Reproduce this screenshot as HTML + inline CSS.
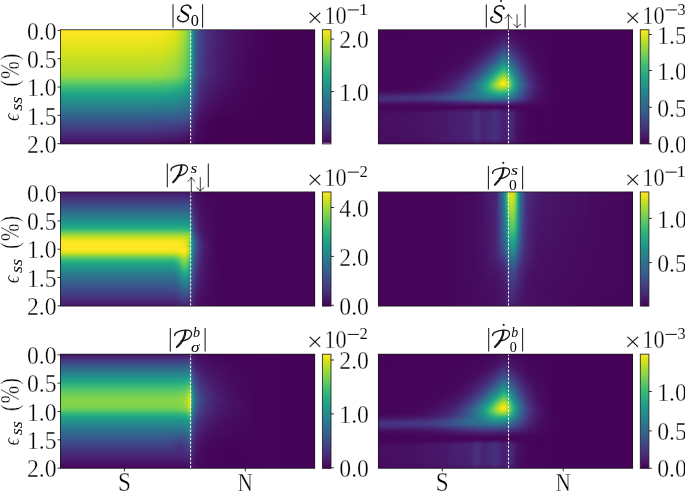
<!DOCTYPE html>
<html><head><meta charset="utf-8"><style>
html,body{margin:0;padding:0;background:#fff;}
#fig{position:relative;width:685px;height:491px;overflow:hidden;background:#fff;font-family:"Liberation Serif",serif;}
#fig div{position:absolute;}
</style></head><body><div id="fig">
<div style="left:60px;top:30px;width:255px;height:114px"><div style="left:0px;top:0;width:91px;height:114px;background:linear-gradient(#fde725,#f3e61e 8.5px,#dae319 20.5px,#acdc31 41.5px,#9eda3a 45.5px,#6cce5a 51.5px,#42be71 56.5px,#25ab82 62.5px,#1e9b8a 67.5px,#31688e 84.5px,#443c84 98.5px,#48196b 110.5px,#470e61)"></div><div style="left:91px;top:0;width:6px;height:114px;background:linear-gradient(#fbe723,#f2e61d 7.5px,#dae319 19.5px,#a9dc33 41.5px,#9cd93c 45.5px,#6acd5b 51.5px,#41be72 56.5px,#25ab82 62.5px,#1e9b8a 67.5px,#31678e 84.5px,#433d85 97.5px,#48176a 110.5px,#470d60)"></div><div style="left:97px;top:0;width:4px;height:114px;background:linear-gradient(#f8e621,#f0e51c 7.5px,#d8e219 19.5px,#a2da38 43.5px,#94d841 46.5px,#47c06f 55.5px,#28ae80 61.5px,#1f9d89 66.5px,#2e6d8e 82.5px,#424086 96.5px,#481a6c 109.5px,#470c5f)"></div><div style="left:101px;top:0;width:3px;height:114px;background:linear-gradient(#f6e620,#eee51b 7.5px,#d5e21a 19.5px,#9cd93b 44.5px,#8ad547 47.5px,#45c070 55.5px,#27ad81 61.5px,#1e9d89 66.5px,#2e6d8e 82.5px,#423f85 96.5px,#481668 110.5px,#460c5f)"></div><div style="left:104px;top:0;width:2px;height:114px;background:linear-gradient(#f4e61e,#ece51a 7.5px,#d3e21b 19.5px,#9ad93d 44.5px,#88d548 47.5px,#44bf70 55.5px,#26ad81 61.5px,#1e9d89 66.5px,#2e6d8e 82.5px,#433f85 96.5px,#481568 110.5px,#460b5e)"></div><div style="left:106px;top:0;width:2px;height:114px;background:linear-gradient(#f2e61d,#e9e41a 7.5px,#d0e11c 19.5px,#98d83e 44.5px,#86d549 47.5px,#43bf71 55.5px,#26ac81 61.5px,#1e9c89 66.5px,#30698e 83.5px,#433e85 96.5px,#481567 110.5px,#460b5e)"></div><div style="left:108px;top:0;width:2px;height:114px;background:linear-gradient(#efe51c,#e6e419 7.5px,#cbe11e 20.5px,#96d83f 44.5px,#84d44b 47.5px,#42be72 55.5px,#25ac82 61.5px,#1e9c8a 66.5px,#30698e 83.5px,#433e85 96.5px,#481467 110.5px,#460b5e)"></div><div style="left:110px;top:0;width:1px;height:114px;background:linear-gradient(#ece51a,#e4e418 7.5px,#c8e020 20.5px,#94d841 44.5px,#82d44c 47.5px,#40bd72 55.5px,#25ab82 61.5px,#1e9b8a 66.5px,#30698e 83.5px,#433d85 96.5px,#481466 110.5px,#460a5d)"></div><div style="left:111px;top:0;width:1px;height:114px;background:linear-gradient(#eae51a,#e1e318 7.5px,#c4e022 21.5px,#92d742 44.5px,#80d34d 47.5px,#3fbd73 55.5px,#24ab82 61.5px,#1e9b8a 66.5px,#32668e 84.5px,#433d84 96.5px,#481366 110.5px,#460a5d)"></div><div style="left:112px;top:0;width:1px;height:114px;background:linear-gradient(#e7e419,#dfe318 7.5px,#bfdf25 22.5px,#90d743 44.5px,#7fd34e 47.5px,#3ebc73 55.5px,#24aa83 61.5px,#1f978b 67.5px,#355f8d 86.5px,#453681 98.5px,#470d60 112.5px,#460a5d)"></div><div style="left:113px;top:0;width:1px;height:114px;background:linear-gradient(#e5e419,#dce319 7.5px,#b9de29 24.5px,#8ed645 44.5px,#7dd24f 47.5px,#3dbc74 55.5px,#26ad81 60.5px,#1e9d89 65.5px,#2e6f8e 81.5px,#423f86 95.5px,#48196b 108.5px,#46095d)"></div><div style="left:114px;top:0;width:1px;height:114px;background:linear-gradient(#e2e418,#d9e219 7.5px,#afdd2f 27.5px,#8bd646 44.5px,#7ad251 47.5px,#3cbb75 55.5px,#26ac82 60.5px,#1e9c89 65.5px,#2f6b8e 82.5px,#423f85 95.5px,#48186a 108.5px,#46095c)"></div><div style="left:115px;top:0;width:1px;height:114px;background:linear-gradient(#dee318,#d6e21a 7.5px,#a0da39 33.5px,#89d548 44.5px,#78d152 47.5px,#3aba76 55.5px,#25ab82 60.5px,#1e9c89 65.5px,#2f6b8e 82.5px,#433f85 95.5px,#48186a 108.5px,#46095c)"></div><div style="left:116px;top:0;width:1px;height:114px;background:linear-gradient(#dbe319,#d2e21b 7.5px,#86d44a 44.5px,#75d054 47.5px,#39b976 55.5px,#24aa83 60.5px,#1f988b 66.5px,#355e8d 86.5px,#453782 97.5px,#470e61 111.5px,#46085c)"></div><div style="left:117px;top:0;width:1px;height:114px;background:linear-gradient(#d6e21a,#cee11d 7.5px,#83d44c 44.5px,#72cf56 47.5px,#37b877 55.5px,#24aa83 60.5px,#1f978b 66.5px,#355e8d 86.5px,#453781 97.5px,#470e61 111.5px,#46085c)"></div><div style="left:118px;top:0;width:1px;height:114px;background:linear-gradient(#d2e21b,#c9e01f 7.5px,#7fd34e 44.5px,#6fcf58 47.5px,#35b778 55.5px,#23a984 60.5px,#1f968b 66.5px,#355d8d 86.5px,#453681 97.5px,#470d60 111.5px,#46085b)"></div><div style="left:119px;top:0;width:1px;height:114px;background:linear-gradient(#cce11e,#c4e022 7.5px,#7bd250 44.5px,#6ccd5a 47.5px,#33b67a 55.5px,#22a784 60.5px,#1f958b 66.5px,#375a8c 87.5px,#46327f 98.5px,#46075b)"></div><div style="left:120px;top:0;width:1px;height:114px;background:linear-gradient(#c6e021,#bedf26 7.5px,#77d153 44.5px,#68cc5c 47.5px,#31b57b 55.5px,#21a685 60.5px,#20918c 67.5px,#365c8d 86.5px,#453580 97.5px,#460a5d 112.5px,#46075a)"></div><div style="left:121px;top:0;width:1px;height:114px;background:linear-gradient(#bfdf25,#b7de2a 7.5px,#6fce58 45.5px,#34b679 54.5px,#22a884 59.5px,#1f968b 65.5px,#365c8d 86.5px,#463480 97.5px,#46095c 112.5px,#46075a)"></div><div style="left:122px;top:0;width:1px;height:114px;background:linear-gradient(#b8de29,#afdd2f 7.5px,#75d054 40.5px,#69cd5b 45.5px,#2cb27d 55.5px,#20a387 60.5px,#23898d 69.5px,#355e8d 85.5px,#453781 96.5px,#470d60 110.5px,#45065a)"></div><div style="left:123px;top:0;width:1px;height:114px;background:linear-gradient(#afdd2f,#a7db34 7.5px,#70cf57 39.5px,#64cb5e 45.5px,#2ab07f 55.5px,#1fa187 60.5px,#277e8e 73.5px,#3a548b 88.5px,#472c7b 99.5px,#450659)"></div><div style="left:124px;top:0;width:1px;height:114px;background:linear-gradient(#a6db35,#9eda3a 7.5px,#6acd5b 38.5px,#5ec962 45.5px,#27ae80 55.5px,#1e9c89 61.5px,#2d6f8e 79.5px,#414487 92.5px,#481d6e 104.5px,#450559)"></div><div style="left:125px;top:0;width:1px;height:114px;background:linear-gradient(#9cd93c,#92d742 8.5px,#62cb5f 38.5px,#57c766 45.5px,#28ae80 54.5px,#1fa088 59.5px,#2a788e 75.5px,#3e4b89 90.5px,#482475 101.5px,#450558)"></div><div style="left:126px;top:0;width:1px;height:114px;background:linear-gradient(#90d743,#86d549 8.5px,#5ac864 38.5px,#50c46a 45.5px,#25ac82 54.5px,#1e9b8a 60.5px,#306a8e 80.5px,#414287 92.5px,#481a6c 104.5px,#450457)"></div><div style="left:127px;top:0;width:1px;height:114px;background:linear-gradient(#84d44b,#7ad251 8.5px,#51c469 38.5px,#48c16e 45.5px,#23a884 54.5px,#1f958b 61.5px,#355d8d 84.5px,#443983 94.5px,#471164 107.5px,#450457)"></div><div style="left:128px;top:0;width:1px;height:114px;background:linear-gradient(#76d053,#6cce5a 9.5px,#48c16e 38.5px,#40bd72 45.5px,#21a586 54.5px,#218f8d 62.5px,#355f8d 83.5px,#433c84 93.5px,#481568 105.5px,#450458 112.5px,#450356)"></div><div style="left:129px;top:0;width:1px;height:114px;background:linear-gradient(#68cc5c,#59c765 13.5px,#3ebc74 39.5px,#36b878 46.5px,#20a486 53.5px,#228c8d 62.5px,#355e8d 83.5px,#443b83 93.5px,#481466 105.5px,#450357 112.5px,#440255)"></div><div style="left:130px;top:0;width:1px;height:114px;background:linear-gradient(#59c765,#35b778 37.5px,#2eb37d 46.5px,#1fa088 53.5px,#2a778e 70.5px,#355f8d 82.5px,#433d85 92.5px,#481568 104.5px,#450457 111.5px,#440255)"></div><div style="left:131px;top:0;width:1px;height:114px;background:linear-gradient(#2cb17e,#20a586 32.5px,#21908d 50.5px,#2e6e8e 68.5px,#433e85 87.5px,#482273 104.5px,#48196b)"></div><div style="left:132px;top:0;width:1px;height:114px;background:linear-gradient(#1f978b,#238b8d 36.5px,#306a8e 62.5px,#433e85 82.5px,#482374 97.5px,#481466)"></div><div style="left:133px;top:0;width:1px;height:114px;background:linear-gradient(#26838e,#2a788e 38.5px,#38598c 64.5px,#463480 82.5px,#481c6e 98.5px,#471062)"></div><div style="left:134px;top:0;width:1px;height:114px;background:linear-gradient(#2c748e,#30698e 39.5px,#3d4e8a 64.5px,#482a79 83.5px,#481567 100.5px,#470c5f)"></div><div style="left:135px;top:0;width:1px;height:114px;background:linear-gradient(#31678e,#355e8d 40.5px,#414387 65.5px,#481b6d 89.5px,#460a5d)"></div><div style="left:136px;top:0;width:1px;height:114px;background:linear-gradient(#355e8d,#39558c 40.5px,#433c84 65.5px,#481467 92.5px,#46085b)"></div><div style="left:137px;top:0;width:1px;height:114px;background:linear-gradient(#39568c,#3d4d8a 41.5px,#463580 66.5px,#471164 92.5px,#46065a)"></div><div style="left:138px;top:0;width:1px;height:114px;background:linear-gradient(#3c4f8a,#3f4788 41.5px,#472e7c 67.5px,#470f62 92.5px,#450559)"></div><div style="left:139px;top:0;width:1px;height:114px;background:linear-gradient(#3e4a89,#414287 41.5px,#472b7a 67.5px,#470d60 92.5px,#450558)"></div><div style="left:140px;top:0;width:1px;height:114px;background:linear-gradient(#404588,#433e85 41.5px,#482777 67.5px,#460a5e 93.5px,#450457)"></div><div style="left:141px;top:0;width:1px;height:114px;background:linear-gradient(#424186,#443a83 42.5px,#482374 68.5px,#46095c 93.5px,#450457)"></div><div style="left:142px;top:0;width:1px;height:114px;background:linear-gradient(#433d85,#453781 42.5px,#482172 68.5px,#46085b 93.5px,#450356)"></div><div style="left:143px;top:0;width:1px;height:114px;background:linear-gradient(#443a83,#463480 42.5px,#481e6f 69.5px,#46075a 93.5px,#450356)"></div><div style="left:144px;top:0;width:1px;height:114px;background:linear-gradient(#453782,#46327e 42.5px,#481c6e 69.5px,#45065a 93.5px,#450356)"></div><div style="left:145px;top:0;width:1px;height:114px;background:linear-gradient(#453580,#472f7d 42.5px,#481a6c 69.5px,#450659 93.5px,#440255)"></div><div style="left:146px;top:0;width:1px;height:114px;background:linear-gradient(#46327f,#472d7c 42.5px,#48186a 70.5px,#450559 93.5px,#440255)"></div><div style="left:147px;top:0;width:1px;height:114px;background:linear-gradient(#46307e,#472b7a 42.5px,#481568 71.5px,#450558 93.5px,#440255)"></div><div style="left:148px;top:0;width:2px;height:114px;background:linear-gradient(#472d7c,#482878 43.5px,#471164 73.5px,#450457 94.5px,#440255)"></div><div style="left:150px;top:0;width:2px;height:114px;background:linear-gradient(#482a79,#482576 43.5px,#470d60 76.5px,#450356 98.5px,#440255)"></div><div style="left:152px;top:0;width:2px;height:114px;background:linear-gradient(#482677,#482273 43.5px,#450457 90.5px,#440255)"></div><div style="left:154px;top:0;width:2px;height:114px;background:linear-gradient(#482374,#482071 43.5px,#450356 90.5px,#440254)"></div><div style="left:156px;top:0;width:2px;height:114px;background:linear-gradient(#482172,#481d6f 44.5px,#450356 89.5px,#440154)"></div><div style="left:158px;top:0;width:2px;height:114px;background:linear-gradient(#481e70,#481b6d 44.5px,#450356 89.5px,#440154)"></div><div style="left:160px;top:0;width:2px;height:114px;background:linear-gradient(#481c6e,#48196b 44.5px,#440256 89.5px,#440154)"></div><div style="left:162px;top:0;width:3px;height:114px;background:linear-gradient(#48196c,#481668 45.5px,#440255 88.5px,#440154)"></div><div style="left:165px;top:0;width:3px;height:114px;background:linear-gradient(#481769,#481466 45.5px,#440255 88.5px,#440154)"></div><div style="left:168px;top:0;width:3px;height:114px;background:linear-gradient(#481467,#471164 46.5px,#440255 89.5px,#440154)"></div><div style="left:171px;top:0;width:3px;height:114px;background:linear-gradient(#471265,#470f62 46.5px,#440254 90.5px,#440154)"></div><div style="left:174px;top:0;width:4px;height:114px;background:linear-gradient(#471062,#470d60 47.5px,#440154 91.5px,#440154)"></div><div style="left:178px;top:0;width:4px;height:114px;background:linear-gradient(#470d60,#460a5e 48.5px,#440154 95.5px,#440154)"></div><div style="left:182px;top:0;width:5px;height:114px;background:linear-gradient(#460b5e,#46085b 50.5px,#440154 102.5px,#440154)"></div><div style="left:187px;top:0;width:6px;height:114px;background:linear-gradient(#46095c,#450559 55.5px,#440154)"></div><div style="left:193px;top:0;width:8px;height:114px;background:linear-gradient(#45065a,#450356 64.5px,#440154)"></div><div style="left:201px;top:0;width:12px;height:114px;background:linear-gradient(#450458,#440154)"></div><div style="left:213px;top:0;width:23px;height:114px;background:#440255"></div><div style="left:236px;top:0;width:19px;height:114px;background:#440254"></div></div>
<div style="left:378px;top:30px;width:255px;height:114px"><div style="left:0px;top:0;width:12px;height:114px;background:linear-gradient(#450457,#450659 59.5px,#471063 62.5px,#46307e 67.5px,#46327e 69.5px,#482474 71.5px,#460b5e 74.5px,#450458 77.5px,#46095c 81.5px,#471063 85.5px,#470d60 110.5px,#46095c)"></div><div style="left:12px;top:0;width:10px;height:114px;background:linear-gradient(#450457,#45065a 59.5px,#471164 62.5px,#472d7b 66.5px,#46337f 68.5px,#472b7a 70.5px,#460a5e 74.5px,#450457 78.5px,#471063 84.5px,#470e60 110.5px,#46095c)"></div><div style="left:22px;top:0;width:8px;height:114px;background:linear-gradient(#450457,#450659 58.5px,#470e61 61.5px,#472f7d 66.5px,#463480 68.5px,#472a7a 70.5px,#460a5d 74.5px,#450457 78.5px,#471164 84.5px,#471062 109.5px,#46095c)"></div><div style="left:30px;top:0;width:6px;height:114px;background:linear-gradient(#450457,#46075a 58.5px,#471062 61.5px,#46307e 66.5px,#453580 68.5px,#472a7a 70.5px,#471063 73.5px,#450558 76.5px,#450559 79.5px,#471264 84.5px,#471063 109.5px,#46095d)"></div><div style="left:36px;top:0;width:5px;height:114px;background:linear-gradient(#450457,#46075b 57.5px,#471164 61.5px,#46327f 66.5px,#453681 68.5px,#472b7a 70.5px,#471063 73.5px,#450559 76.5px,#450659 79.5px,#471265 83.5px,#471164 109.5px,#460a5d)"></div><div style="left:41px;top:0;width:4px;height:114px;background:linear-gradient(#450457,#46075b 55.5px,#470f62 60.5px,#482777 64.5px,#453782 67.5px,#46337f 69.5px,#471063 73.5px,#450559 76.5px,#45065a 79.5px,#471366 83.5px,#471264 109.5px,#460a5d)"></div><div style="left:45px;top:0;width:4px;height:114px;background:linear-gradient(#450457,#46075b 52.5px,#470e60 59.5px,#481b6d 62.5px,#453681 66.5px,#443982 68.5px,#472c7b 70.5px,#471164 73.5px,#450559 76.5px,#46065a 79.5px,#481466 83.5px,#471365 109.5px,#460b5e)"></div><div style="left:49px;top:0;width:3px;height:114px;background:linear-gradient(#450457,#46075b 50.5px,#471062 59.5px,#481d6f 62.5px,#453882 66.5px,#443a83 68.5px,#472d7b 70.5px,#471164 73.5px,#450559 76.5px,#46075a 79.5px,#481567 83.5px,#481466 109.5px,#460b5e)"></div><div style="left:52px;top:0;width:3px;height:114px;background:linear-gradient(#450457,#46075b 49.5px,#471264 59.5px,#481f71 62.5px,#443a83 66.5px,#433c84 68.5px,#472e7c 70.5px,#471265 73.5px,#450659 76.5px,#46075b 79.5px,#481668 83.5px,#481467 109.5px,#460b5f)"></div><div style="left:55px;top:0;width:3px;height:114px;background:linear-gradient(#450457,#46075b 47.5px,#481466 59.5px,#482273 62.5px,#433c84 66.5px,#433e85 68.5px,#472f7d 70.5px,#471365 73.5px,#450659 76.5px,#450558 78.5px,#481769 83.5px,#481568 109.5px,#460c5f)"></div><div style="left:58px;top:0;width:2px;height:114px;background:linear-gradient(#450457,#46085b 46.5px,#481669 59.5px,#482475 62.5px,#433f85 66.5px,#424086 68.5px,#46307e 70.5px,#481466 73.5px,#450659 76.5px,#450558 78.5px,#48186a 83.5px,#481668 109.5px,#470c5f)"></div><div style="left:60px;top:0;width:2px;height:114px;background:linear-gradient(#450457,#46085b 45.5px,#48186b 59.5px,#482777 62.5px,#424186 66.5px,#424286 68.5px,#46327e 70.5px,#481467 73.5px,#450659 76.5px,#450558 78.5px,#48186b 83.5px,#481769 109.5px,#470d60)"></div><div style="left:62px;top:0;width:2px;height:114px;background:linear-gradient(#450457,#46085b 44.5px,#481b6d 59.5px,#482979 62.5px,#414387 66.5px,#414387 68.5px,#46337f 70.5px,#481567 73.5px,#45065a 76.5px,#450559 78.5px,#48186a 82.5px,#48176a 109.5px,#470d60)"></div><div style="left:64px;top:0;width:2px;height:114px;background:linear-gradient(#450457,#46085c 43.5px,#481d6f 59.5px,#46337f 63.5px,#404588 66.5px,#404588 68.5px,#463480 70.5px,#481668 73.5px,#45065a 76.5px,#450559 78.5px,#48186b 82.5px,#48186a 109.5px,#470d60)"></div><div style="left:66px;top:0;width:2px;height:114px;background:linear-gradient(#450457,#46085c 42.5px,#482071 59.5px,#453681 63.5px,#3f4888 66.5px,#3f4788 68.5px,#453681 70.5px,#481769 73.5px,#45065a 76.5px,#450559 78.5px,#48196b 82.5px,#48196b 109.5px,#470e61)"></div><div style="left:68px;top:0;width:2px;height:114px;background:linear-gradient(#450457,#46085b 40.5px,#48176a 52.5px,#482777 60.5px,#404688 65.5px,#3d4c8a 67.5px,#3e4a89 68.5px,#453882 70.5px,#48176a 73.5px,#45065a 76.5px,#450659 78.5px,#481a6c 82.5px,#481a6c 109.5px,#470e61)"></div><div style="left:70px;top:0;width:2px;height:114px;background:linear-gradient(#450457,#46085c 39.5px,#48186a 51.5px,#472a7a 60.5px,#3e4989 65.5px,#3c4f8a 67.5px,#3d4c8a 68.5px,#443a83 70.5px,#48186a 73.5px,#46075a 76.5px,#450659 78.5px,#481b6d 82.5px,#481a6c 109.5px,#470e61)"></div><div style="left:72px;top:0;width:1px;height:114px;background:linear-gradient(#450457,#46085c 38.5px,#48186a 50.5px,#472d7b 60.5px,#3c508b 66.5px,#3c4e8a 68.5px,#443b84 70.5px,#48196b 73.5px,#46075a 76.5px,#450659 78.5px,#481c6d 82.5px,#481b6d 109.5px,#470f62)"></div><div style="left:73px;top:0;width:1px;height:114px;background:linear-gradient(#450457,#46085c 37.5px,#48196b 50.5px,#472f7d 60.5px,#3b518b 66.5px,#3c508b 68.5px,#433c84 70.5px,#48196c 73.5px,#46075a 76.5px,#45065a 78.5px,#481c6e 82.5px,#481b6d 109.5px,#470f62)"></div><div style="left:74px;top:0;width:1px;height:114px;background:linear-gradient(#450457,#46095c 37.5px,#48186b 49.5px,#46317e 60.5px,#3a538b 66.5px,#3b518b 68.5px,#433d85 70.5px,#481a6c 73.5px,#46075a 76.5px,#45065a 78.5px,#481c6e 82.5px,#481b6d 109.5px,#470f62)"></div><div style="left:75px;top:0;width:1px;height:114px;background:linear-gradient(#450457,#46095c 36.5px,#481a6c 49.5px,#46337f 60.5px,#39558c 66.5px,#3a538b 68.5px,#433e85 70.5px,#481a6c 73.5px,#46075a 76.5px,#45065a 78.5px,#481d6f 82.5px,#481c6e 109.5px,#470f62)"></div><div style="left:76px;top:0;width:1px;height:114px;background:linear-gradient(#450457,#46085c 35.5px,#48196b 48.5px,#472d7c 57.5px,#443b83 61.5px,#39578c 66.5px,#3a548c 68.5px,#423f86 70.5px,#481b6d 73.5px,#46075a 76.5px,#45065a 78.5px,#481d6f 82.5px,#481c6e 109.5px,#470f62)"></div><div style="left:77px;top:0;width:1px;height:114px;background:linear-gradient(#450457,#46095c 35.5px,#481b6d 48.5px,#472e7c 56.5px,#453882 60.5px,#38588c 66.5px,#39568c 68.5px,#424186 70.5px,#481b6d 73.5px,#46075a 76.5px,#46075a 78.5px,#481e6f 82.5px,#481d6e 109.5px,#471062)"></div><div style="left:78px;top:0;width:1px;height:114px;background:linear-gradient(#450457,#46095c 34.5px,#481a6c 47.5px,#46307e 56.5px,#443b83 60.5px,#375a8c 66.5px,#38578c 68.5px,#414286 70.5px,#481c6e 73.5px,#46075a 76.5px,#46075a 78.5px,#481e70 82.5px,#481d6f 109.5px,#471063)"></div><div style="left:79px;top:0;width:1px;height:114px;background:linear-gradient(#450457,#46095c 33.5px,#481a6c 46.5px,#46337f 56.5px,#414286 61.5px,#37598c 65.5px,#365c8d 67.5px,#38588c 68.5px,#414387 70.5px,#481c6e 73.5px,#46075a 76.5px,#450458 77.5px,#470d60 79.5px,#481e70 82.5px,#481d6f 109.5px,#471063)"></div><div style="left:80px;top:0;width:1px;height:114px;background:linear-gradient(#450457,#46095d 33.5px,#481b6d 46.5px,#463480 55.5px,#424086 60.5px,#375b8d 65.5px,#355e8d 67.5px,#375a8c 68.5px,#414487 70.5px,#481d6f 73.5px,#46075a 76.5px,#450458 77.5px,#470d60 79.5px,#481f70 82.5px,#481e6f 109.5px,#471063)"></div><div style="left:81px;top:0;width:1px;height:114px;background:linear-gradient(#450457,#46095c 32.5px,#481b6d 45.5px,#453781 55.5px,#414287 60.5px,#365c8d 65.5px,#355f8d 67.5px,#375b8d 68.5px,#404587 70.5px,#481d6f 73.5px,#46075b 76.5px,#450558 77.5px,#470e61 79.5px,#481f71 82.5px,#481e70 109.5px,#471063)"></div><div style="left:82px;top:0;width:1px;height:114px;background:linear-gradient(#450457,#46095c 31.5px,#481a6c 44.5px,#443983 55.5px,#404588 60.5px,#355e8d 65.5px,#34608d 67.5px,#365c8d 68.5px,#404688 70.5px,#481e70 73.5px,#46075b 76.5px,#450558 77.5px,#470e61 79.5px,#482071 82.5px,#481e70 109.5px,#471063)"></div><div style="left:83px;top:0;width:1px;height:114px;background:linear-gradient(#450457,#46095c 30.5px,#481a6c 43.5px,#463480 52.5px,#3d4c8a 61.5px,#34608d 65.5px,#33618d 67.5px,#355d8d 68.5px,#404688 70.5px,#481e70 73.5px,#46075b 76.5px,#450558 77.5px,#470e61 79.5px,#482071 82.5px,#481e70 109.5px,#471163)"></div><div style="left:84px;top:0;width:1px;height:114px;background:linear-gradient(#450457,#46095d 30.5px,#481b6d 43.5px,#453781 52.5px,#3c4f8a 61.5px,#34618d 65.5px,#33638d 67.5px,#355e8d 68.5px,#3f4788 70.5px,#481f70 73.5px,#46075b 76.5px,#450558 77.5px,#470f61 79.5px,#482072 82.5px,#481f70 109.5px,#471163)"></div><div style="left:85px;top:0;width:1px;height:114px;background:linear-gradient(#450457,#46095d 29.5px,#481b6d 42.5px,#453681 51.5px,#414387 55.5px,#3b518b 61.5px,#33638d 65.5px,#32648e 67.5px,#355f8d 68.5px,#3f4889 70.5px,#481f71 73.5px,#46075b 76.5px,#450558 77.5px,#470f62 79.5px,#482172 82.5px,#481f71 109.5px,#471164)"></div><div style="left:86px;top:0;width:1px;height:114px;background:linear-gradient(#450457,#46095d 28.5px,#481b6d 41.5px,#453580 50.5px,#404688 55.5px,#3a548c 61.5px,#32648e 65.5px,#32658e 67.5px,#34608d 68.5px,#3f4989 70.5px,#482071 73.5px,#46075b 76.5px,#450558 77.5px,#470f62 79.5px,#482172 82.5px,#481f71 109.5px,#471164)"></div><div style="left:87px;top:0;width:1px;height:114px;background:linear-gradient(#450457,#46095d 27.5px,#481a6c 40.5px,#453882 50.5px,#3e4a89 55.5px,#38578c 61.5px,#31678e 66.5px,#34618d 68.5px,#3e4a89 70.5px,#482071 73.5px,#46075b 76.5px,#450558 77.5px,#470f62 79.5px,#482173 82.5px,#481f71 109.5px,#471164)"></div><div style="left:88px;top:0;width:1px;height:114px;background:linear-gradient(#450457,#460a5d 27.5px,#481c6e 40.5px,#443b84 50.5px,#3d4d8a 55.5px,#355e8d 62.5px,#30688e 66.5px,#33628d 68.5px,#3e4a89 70.5px,#482072 73.5px,#46075b 76.5px,#450558 77.5px,#471062 79.5px,#482273 82.5px,#482071 109.5px,#471164)"></div><div style="left:89px;top:0;width:1px;height:114px;background:linear-gradient(#450457,#460a5d 26.5px,#481c6e 39.5px,#443a83 49.5px,#3c4f8a 54.5px,#34608d 62.5px,#306a8e 66.5px,#33638d 68.5px,#3e4b89 70.5px,#482172 73.5px,#46075b 76.5px,#450558 77.5px,#48176a 80.5px,#482273 82.5px,#482071 109.5px,#471164)"></div><div style="left:90px;top:0;width:1px;height:114px;background:linear-gradient(#450457,#460a5d 25.5px,#481b6d 38.5px,#443a83 48.5px,#3a538b 54.5px,#31668e 63.5px,#2f6b8e 66.5px,#32648e 68.5px,#3d4c8a 70.5px,#482172 73.5px,#46075b 76.5px,#450558 77.5px,#482273 82.5px,#482373 108.5px,#471164)"></div><div style="left:91px;top:0;width:1px;height:114px;background:linear-gradient(#450457,#460a5d 24.5px,#481d6f 38.5px,#433d84 48.5px,#39578c 54.5px,#2f6c8e 66.5px,#32658e 68.5px,#3d4c8a 70.5px,#482273 73.5px,#46075b 76.5px,#450558 77.5px,#482374 82.5px,#482374 108.5px,#471264)"></div><div style="left:92px;top:0;width:1px;height:114px;background:linear-gradient(#450457,#460a5e 24.5px,#481d6f 37.5px,#433c84 47.5px,#375a8d 54.5px,#2e6d8e 66.5px,#32668e 68.5px,#3d4d8a 70.5px,#472f7d 72.5px,#470e61 75.5px,#450558 77.5px,#482374 82.5px,#482374 108.5px,#471264)"></div><div style="left:93px;top:0;width:1px;height:114px;background:linear-gradient(#450457,#460a5d 23.5px,#481d6f 36.5px,#433c84 46.5px,#355f8d 54.5px,#2e6f8e 66.5px,#31678e 68.5px,#3c4e8a 70.5px,#47307d 72.5px,#470e61 75.5px,#450558 77.5px,#482475 82.5px,#482475 108.5px,#471265)"></div><div style="left:94px;top:0;width:1px;height:114px;background:linear-gradient(#450457,#460a5d 22.5px,#481f70 36.5px,#423f85 46.5px,#33638d 54.5px,#2d718e 65.5px,#2e6e8e 67.5px,#365d8d 69.5px,#424086 71.5px,#48186a 74.5px,#46075b 76.5px,#450558 77.5px,#482676 82.5px,#482676 108.5px,#481366)"></div><div style="left:95px;top:0;width:1px;height:114px;background:linear-gradient(#450457,#460b5e 22.5px,#481f70 35.5px,#423f85 45.5px,#31678e 54.5px,#2c728e 65.5px,#2e6f8e 67.5px,#355e8d 69.5px,#424186 71.5px,#48186a 74.5px,#46075b 76.5px,#450558 77.5px,#471366 79.5px,#482474 81.5px,#482979 83.5px,#482978 108.5px,#481467)"></div><div style="left:96px;top:0;width:1px;height:114px;background:linear-gradient(#450457,#460b5e 21.5px,#481e70 34.5px,#433e85 44.5px,#2f6b8e 54.5px,#2b748e 65.5px,#2d708e 67.5px,#355f8d 69.5px,#424286 71.5px,#48186b 74.5px,#46075b 76.5px,#450558 77.5px,#481467 79.5px,#482777 81.5px,#472c7b 83.5px,#472c7b 108.5px,#481668)"></div><div style="left:97px;top:0;width:1px;height:114px;background:linear-gradient(#450457,#460a5e 20.5px,#482172 34.5px,#414287 44.5px,#2d708e 54.5px,#2b768e 65.5px,#2d718e 67.5px,#34608d 69.5px,#414287 71.5px,#48196b 74.5px,#46085b 76.5px,#450558 77.5px,#481668 79.5px,#482a79 81.5px,#47307d 83.5px,#472f7d 108.5px,#48176a)"></div><div style="left:98px;top:0;width:1px;height:114px;background:linear-gradient(#450457,#460b5e 20.5px,#482072 33.5px,#414287 43.5px,#2b748e 54.5px,#2a798e 64.5px,#2c728e 67.5px,#34618d 69.5px,#414387 71.5px,#48196b 74.5px,#46085b 76.5px,#450559 77.5px,#481769 79.5px,#472b7a 81.5px,#46327f 83.5px,#46317e 108.5px,#48186b)"></div><div style="left:99px;top:0;width:1px;height:114px;background:linear-gradient(#450457,#460b5e 19.5px,#482072 32.5px,#424286 42.5px,#2b768e 53.5px,#287d8e 59.5px,#2a778e 66.5px,#2f6d8e 68.5px,#3a548b 70.5px,#463480 72.5px,#470f62 75.5px,#46085b 76.5px,#450559 77.5px,#481769 79.5px,#472b7a 81.5px,#46327f 83.5px,#46317e 108.5px,#48186b)"></div><div style="left:100px;top:0;width:1px;height:114px;background:linear-gradient(#450457,#460b5e 18.5px,#482374 32.5px,#404688 42.5px,#287e8e 54.5px,#27808e 61.5px,#2a788e 66.5px,#2e6e8e 68.5px,#404588 71.5px,#482677 73.5px,#46085b 76.5px,#450559 77.5px,#481668 79.5px,#482a79 81.5px,#47307d 83.5px,#472f7d 108.5px,#48176a)"></div><div style="left:101px;top:0;width:1px;height:114px;background:linear-gradient(#450457,#460c5f 18.5px,#482273 31.5px,#404588 41.5px,#27808e 53.5px,#24868e 58.5px,#287d8e 65.5px,#2e6f8e 68.5px,#404688 71.5px,#482777 73.5px,#46085b 76.5px,#450558 77.5px,#481567 79.5px,#482777 81.5px,#472d7b 83.5px,#472c7b 108.5px,#481668)"></div><div style="left:102px;top:0;width:1px;height:114px;background:linear-gradient(#450458,#460b5f 17.5px,#482273 30.5px,#404588 40.5px,#277f8e 52.5px,#23898d 55.5px,#24878e 61.5px,#2a778e 67.5px,#32648e 69.5px,#404688 71.5px,#482777 73.5px,#471062 75.5px,#46085b 76.5px,#450558 77.5px,#481366 79.5px,#482475 81.5px,#482979 83.5px,#482979 108.5px,#481467)"></div><div style="left:103px;top:0;width:1px;height:114px;background:linear-gradient(#450458,#470c5f 17.5px,#482575 30.5px,#3f4989 40.5px,#25858e 52.5px,#218f8d 55.5px,#228b8d 61.5px,#2a788e 67.5px,#32658e 69.5px,#3f4788 71.5px,#482877 73.5px,#471063 75.5px,#46085b 76.5px,#450558 77.5px,#471265 79.5px,#482676 82.5px,#482677 108.5px,#481366)"></div><div style="left:104px;top:0;width:1px;height:114px;background:linear-gradient(#450458,#470c5f 16.5px,#482575 29.5px,#3f4989 39.5px,#25858e 51.5px,#20928c 54.5px,#20938c 59.5px,#277e8e 66.5px,#2c728e 68.5px,#3f4888 71.5px,#482878 73.5px,#471063 75.5px,#46085b 76.5px,#450558 77.5px,#482575 82.5px,#482575 108.5px,#471365)"></div><div style="left:105px;top:0;width:1px;height:114px;background:linear-gradient(#450458,#470d60 16.5px,#482777 29.5px,#3d4d8a 39.5px,#238a8d 51.5px,#1f988b 54.5px,#1f978b 59.5px,#277f8e 66.5px,#2c738e 68.5px,#3f4889 71.5px,#482878 73.5px,#471063 75.5px,#46085b 76.5px,#450558 77.5px,#482475 82.5px,#482475 108.5px,#471265)"></div><div style="left:106px;top:0;width:1px;height:114px;background:linear-gradient(#450458,#470d60 15.5px,#482475 27.5px,#3f4889 37.5px,#25858e 49.5px,#1f9e89 54.5px,#1e9c89 59.5px,#26818e 66.5px,#2c748e 68.5px,#3f4989 71.5px,#482978 73.5px,#471063 75.5px,#46085b 76.5px,#450558 77.5px,#482474 82.5px,#482475 108.5px,#471265)"></div><div style="left:107px;top:0;width:1px;height:114px;background:linear-gradient(#450558,#470e61 15.5px,#482777 27.5px,#3d4d8a 37.5px,#228b8d 49.5px,#20a386 54.5px,#20a387 58.5px,#228d8d 64.5px,#2b758e 68.5px,#3e4989 71.5px,#482978 73.5px,#471063 75.5px,#46085b 76.5px,#450558 77.5px,#482475 82.5px,#482475 108.5px,#471265)"></div><div style="left:108px;top:0;width:1px;height:114px;background:linear-gradient(#450558,#470d60 14.5px,#482777 26.5px,#3d4c8a 36.5px,#228b8d 48.5px,#1fa187 52.5px,#24aa83 55.5px,#21a586 59.5px,#218f8d 64.5px,#2b758e 68.5px,#3e4a89 71.5px,#482979 73.5px,#471063 75.5px,#46085c 76.5px,#450558 77.5px,#482475 82.5px,#482575 108.5px,#471265)"></div><div style="left:109px;top:0;width:1px;height:114px;background:linear-gradient(#450558,#470e61 14.5px,#482677 25.5px,#3d4c8a 35.5px,#228c8d 47.5px,#1fa287 51.5px,#29af7f 54.5px,#26ad81 58.5px,#1e9c89 62.5px,#2a768e 68.5px,#3e4a89 71.5px,#482979 73.5px,#471063 75.5px,#46085c 76.5px,#450558 77.5px,#482576 82.5px,#482576 108.5px,#471365)"></div><div style="left:110px;top:0;width:1px;height:114px;background:linear-gradient(#450558,#470e61 13.5px,#482676 24.5px,#3d4c8a 34.5px,#24868e 45.5px,#1e9d89 49.5px,#27ad81 52.5px,#31b57b 54.5px,#30b47c 57.5px,#1fa088 62.5px,#26808e 67.5px,#2f6b8e 69.5px,#3e4b89 71.5px,#482979 73.5px,#471063 75.5px,#46085c 76.5px,#450558 77.5px,#471265 79.5px,#482677 82.5px,#482777 108.5px,#481366)"></div><div style="left:111px;top:0;width:1px;height:114px;background:linear-gradient(#450558,#470f62 13.5px,#482978 24.5px,#3b508b 34.5px,#228c8d 45.5px,#20a486 49.5px,#2fb47c 52.5px,#3bbb75 54.5px,#38b977 57.5px,#20a387 62.5px,#23888e 66.5px,#2a788e 68.5px,#3e4b89 71.5px,#482a79 73.5px,#471063 75.5px,#46085c 76.5px,#450558 77.5px,#471365 79.5px,#482374 81.5px,#482878 83.5px,#482878 108.5px,#481467)"></div><div style="left:112px;top:0;width:1px;height:114px;background:linear-gradient(#450559,#471063 13.5px,#472c7b 24.5px,#39558c 34.5px,#20928c 45.5px,#20a486 48.5px,#31b57b 51.5px,#47c06f 54.5px,#46c06f 56.5px,#2db27d 60.5px,#1f9f88 63.5px,#29798e 68.5px,#3e4b8a 71.5px,#482a79 73.5px,#471163 75.5px,#46085c 76.5px,#450558 77.5px,#481466 79.5px,#482575 81.5px,#472a7a 83.5px,#482a79 108.5px,#481567)"></div><div style="left:113px;top:0;width:1px;height:114px;background:linear-gradient(#450559,#471063 12.5px,#482878 22.5px,#3c508b 32.5px,#228c8d 43.5px,#1f9f88 46.5px,#2bb07e 49.5px,#4fc46a 53.5px,#55c667 55.5px,#4dc36c 57.5px,#29af7f 61.5px,#1fa187 63.5px,#25848e 67.5px,#2f6d8e 69.5px,#3d4c8a 71.5px,#482a79 73.5px,#471163 75.5px,#46085c 76.5px,#450558 77.5px,#481467 79.5px,#482677 81.5px,#472c7b 83.5px,#472c7b 108.5px,#481668)"></div><div style="left:114px;top:0;width:1px;height:114px;background:linear-gradient(#450659,#471164 12.5px,#472b7a 22.5px,#3a548b 32.5px,#20928c 43.5px,#21a586 46.5px,#34b779 49.5px,#5dc962 53.5px,#63cb5f 54.5px,#5fc961 56.5px,#43bf71 59.5px,#25ab82 62.5px,#1e9c89 64.5px,#297b8e 68.5px,#3d4c8a 71.5px,#482a79 73.5px,#471063 75.5px,#46085c 76.5px,#450559 77.5px,#481567 79.5px,#482878 81.5px,#472e7c 83.5px,#472e7c 108.5px,#481769)"></div><div style="left:115px;top:0;width:1px;height:114px;background:linear-gradient(#450659,#471265 12.5px,#472e7c 22.5px,#38588c 32.5px,#20918c 42.5px,#21a586 45.5px,#35b778 48.5px,#6dce59 53.5px,#72cf56 54.5px,#6cce59 56.5px,#4cc26c 59.5px,#28ae80 62.5px,#1f9e89 64.5px,#287b8e 68.5px,#3d4c8a 71.5px,#482a79 73.5px,#471063 75.5px,#46085b 76.5px,#450559 77.5px,#481668 79.5px,#482979 81.5px,#472f7d 83.5px,#472f7d 108.5px,#481769)"></div><div style="left:116px;top:0;width:1px;height:114px;background:linear-gradient(#45065a,#481466 12.5px,#46317e 22.5px,#365d8d 32.5px,#21918c 41.5px,#20a586 44.5px,#2cb27d 46.5px,#72cf56 52.5px,#7dd24f 53.5px,#82d44c 54.5px,#7ad251 56.5px,#54c568 59.5px,#2ab07f 62.5px,#1f9f88 64.5px,#287c8e 68.5px,#3d4c8a 71.5px,#482a79 73.5px,#471063 75.5px,#46085b 76.5px,#450559 77.5px,#481668 79.5px,#482a79 81.5px,#47307d 83.5px,#472f7d 108.5px,#48176a)"></div><div style="left:117px;top:0;width:1px;height:114px;background:linear-gradient(#45065a,#481568 12.5px,#46307e 21.5px,#38588c 30.5px,#21908d 40.5px,#20a486 43.5px,#2cb17e 45.5px,#5cc963 49.5px,#8ed644 53.5px,#93d741 54.5px,#90d743 55.5px,#7cd250 57.5px,#3aba76 61.5px,#23a983 63.5px,#1f988b 65.5px,#287c8e 68.5px,#3d4c8a 71.5px,#482a79 73.5px,#471063 75.5px,#46085b 76.5px,#450559 77.5px,#481668 79.5px,#482979 81.5px,#47307d 83.5px,#472f7d 108.5px,#48176a)"></div><div style="left:118px;top:0;width:1px;height:114px;background:linear-gradient(#46075a,#481567 11.5px,#472f7d 20.5px,#38578c 29.5px,#218f8d 39.5px,#20a387 42.5px,#2bb17e 44.5px,#4fc46a 47.5px,#95d840 52.5px,#9fda39 53.5px,#a4db37 54.5px,#a0da39 55.5px,#88d548 57.5px,#3ebc74 61.5px,#25ab82 63.5px,#1f998a 65.5px,#287c8e 68.5px,#3d4c8a 71.5px,#482a79 73.5px,#471063 75.5px,#46085b 76.5px,#450558 77.5px,#481568 79.5px,#482878 81.5px,#472e7c 83.5px,#472e7c 108.5px,#481769)"></div><div style="left:119px;top:0;width:1px;height:114px;background:linear-gradient(#46075b,#481669 11.5px,#46337f 20.5px,#365c8d 29.5px,#1f948c 39.5px,#23a984 42.5px,#34b679 44.5px,#6dce59 48.5px,#a6db35 52.5px,#b0dd2e 53.5px,#b4dd2c 54.5px,#afdd2f 55.5px,#a3db37 56.5px,#7fd34e 58.5px,#42be72 61.5px,#26ac82 63.5px,#1fa287 64.5px,#24878e 67.5px,#2e6e8e 69.5px,#3d4c8a 71.5px,#482979 73.5px,#471063 75.5px,#46085b 76.5px,#450558 77.5px,#481467 79.5px,#482777 81.5px,#472d7b 83.5px,#472c7b 108.5px,#481668)"></div><div style="left:120px;top:0;width:1px;height:114px;background:linear-gradient(#46085b,#48186a 11.5px,#453681 20.5px,#34608d 29.5px,#20938c 38.5px,#22a784 41.5px,#32b57b 43.5px,#5bc863 46.5px,#acdc31 51.5px,#c1df24 53.5px,#c4e022 54.5px,#bedf26 55.5px,#b0dd2e 56.5px,#70cf57 59.5px,#44bf70 61.5px,#26ac81 63.5px,#20a387 64.5px,#24878e 67.5px,#2e6e8e 69.5px,#3e4b8a 71.5px,#482979 73.5px,#471063 75.5px,#46085b 76.5px,#450558 77.5px,#481366 79.5px,#482575 81.5px,#472a79 83.5px,#482a79 108.5px,#481567)"></div><div style="left:121px;top:0;width:1px;height:114px;background:linear-gradient(#46085c,#481a6c 11.5px,#443a83 20.5px,#32658e 29.5px,#1f988b 38.5px,#21a685 40.5px,#2fb47c 42.5px,#58c765 45.5px,#aedc30 50.5px,#c9e020 52.5px,#d1e11c 53.5px,#d3e21b 54.5px,#cbe11e 55.5px,#bbde27 56.5px,#74d054 59.5px,#46c06f 61.5px,#34b779 62.5px,#27ad81 63.5px,#20a387 64.5px,#21908d 66.5px,#287c8e 68.5px,#3e4b89 71.5px,#482978 73.5px,#471063 75.5px,#46085b 76.5px,#450558 77.5px,#471265 79.5px,#482777 82.5px,#482777 108.5px,#481466)"></div><div style="left:122px;top:0;width:1px;height:114px;background:linear-gradient(#46095c,#481c6e 11.5px,#433d85 20.5px,#2e6f8e 30.5px,#1f978b 37.5px,#20a486 39.5px,#2db27d 41.5px,#54c568 44.5px,#addc30 49.5px,#cce11e 51.5px,#e0e318 53.5px,#e1e318 54.5px,#d6e21a 55.5px,#c4e022 56.5px,#78d152 59.5px,#48c06e 61.5px,#34b779 62.5px,#27ad81 63.5px,#20a387 64.5px,#21908d 66.5px,#287b8e 68.5px,#3e4a89 71.5px,#482878 73.5px,#471062 75.5px,#46085b 76.5px,#450558 77.5px,#482575 82.5px,#482575 108.5px,#471365)"></div><div style="left:123px;top:0;width:1px;height:114px;background:linear-gradient(#46095d,#481b6d 10.5px,#433d84 19.5px,#30698e 28.5px,#1f968b 36.5px,#23a983 39.5px,#34b779 41.5px,#5fc961 44.5px,#bade28 49.5px,#dae319 51.5px,#ede51b 53.5px,#ece51b 54.5px,#e0e318 55.5px,#cbe11e 56.5px,#7ad251 59.5px,#48c16e 61.5px,#34b779 62.5px,#27ad81 63.5px,#20a387 64.5px,#24868e 67.5px,#2f6c8e 69.5px,#3e4a89 71.5px,#482878 73.5px,#471062 75.5px,#46085b 76.5px,#450558 77.5px,#482374 82.5px,#482374 108.5px,#471264)"></div><div style="left:124px;top:0;width:1px;height:114px;background:linear-gradient(#460a5d,#481d6f 10.5px,#424086 19.5px,#2c738e 29.5px,#1e9b8a 36.5px,#22a884 38.5px,#31b57b 40.5px,#59c765 43.5px,#b4dd2c 48.5px,#d6e21a 50.5px,#f0e51c 52.5px,#f7e621 53.5px,#f5e61f 54.5px,#e6e419 55.5px,#d0e11c 56.5px,#7bd251 59.5px,#47c06f 61.5px,#34b679 62.5px,#26ac81 63.5px,#1fa287 64.5px,#25858e 67.5px,#2f6b8e 69.5px,#3f4989 71.5px,#482777 73.5px,#470f62 75.5px,#450558 77.5px,#482172 82.5px,#481f71 109.5px,#471164)"></div><div style="left:125px;top:0;width:2px;height:114px;background:linear-gradient(#460b5e,#481f71 10.5px,#404588 19.5px,#287d8e 30.5px,#1fa088 36.5px,#27ad81 38.5px,#45c070 41.5px,#86d549 45.5px,#cee11d 49.5px,#dee318 50.5px,#f7e620 52.5px,#fde725 53.5px,#fae722 54.5px,#e8e419 55.5px,#d0e11c 56.5px,#79d152 59.5px,#45c070 61.5px,#32b57a 62.5px,#25ab82 63.5px,#1fa188 64.5px,#25848e 67.5px,#306a8e 69.5px,#3f4889 71.5px,#482777 73.5px,#470f62 75.5px,#450558 77.5px,#482071 82.5px,#481e70 109.5px,#471063)"></div><div style="left:127px;top:0;width:1px;height:114px;background:linear-gradient(#460b5e,#481e70 10.5px,#414287 19.5px,#2b758e 29.5px,#1e9c89 36.5px,#23a983 38.5px,#33b67a 40.5px,#5ac864 43.5px,#b1dd2e 48.5px,#d1e11c 50.5px,#e7e419 52.5px,#ede51b 53.5px,#ebe51a 54.5px,#dde319 55.5px,#c7e021 56.5px,#73d055 59.5px,#42be71 61.5px,#30b47c 62.5px,#24aa83 63.5px,#1f9f88 64.5px,#2a778e 68.5px,#3f4788 71.5px,#482777 73.5px,#470f62 75.5px,#450558 77.5px,#482072 82.5px,#481e70 109.5px,#471163)"></div><div style="left:128px;top:0;width:1px;height:114px;background:linear-gradient(#460a5d,#481c6e 10.5px,#423f85 19.5px,#2d708e 29.5px,#1f9e89 37.5px,#24aa83 39.5px,#40bd72 42.5px,#7dd24f 46.5px,#bcdf27 50.5px,#d1e11c 52.5px,#d6e21a 53.5px,#d5e21a 54.5px,#c9e01f 55.5px,#9fda3a 57.5px,#53c568 60.5px,#2db27d 62.5px,#22a884 63.5px,#20948c 65.5px,#2a768e 68.5px,#404788 71.5px,#482677 73.5px,#470f62 75.5px,#450558 77.5px,#482273 82.5px,#482071 109.5px,#471164)"></div><div style="left:129px;top:0;width:1px;height:114px;background:linear-gradient(#46095d,#481e6f 11.5px,#424086 20.5px,#2d718e 30.5px,#1f9e89 38.5px,#25ab82 40.5px,#40bd72 43.5px,#96d840 49.5px,#b6de2b 52.5px,#bcdf27 53.5px,#bbde27 54.5px,#b2dd2d 55.5px,#8dd645 57.5px,#4ac16d 60.5px,#29af80 62.5px,#21a586 63.5px,#20928c 65.5px,#2b758e 68.5px,#404688 71.5px,#482676 73.5px,#470f62 75.5px,#450558 77.5px,#482475 82.5px,#482475 108.5px,#471265)"></div><div style="left:130px;top:0;width:1px;height:114px;background:linear-gradient(#46095c,#481c6e 11.5px,#433d84 20.5px,#2f6c8e 30.5px,#1f988b 38.5px,#24aa83 41.5px,#3ebc74 44.5px,#87d549 50.5px,#9fda3a 53.5px,#9fda3a 54.5px,#97d83f 55.5px,#79d152 57.5px,#3fbd73 60.5px,#24ab82 62.5px,#1fa187 63.5px,#287d8e 67.5px,#32658e 69.5px,#404588 71.5px,#482576 73.5px,#470f61 75.5px,#450558 77.5px,#482273 81.5px,#482777 83.5px,#482777 108.5px,#481366)"></div><div style="left:131px;top:0;width:1px;height:114px;background:linear-gradient(#46085c,#481a6c 11.5px,#443983 20.5px,#31678e 30.5px,#1f978b 39.5px,#23a884 42.5px,#38b977 45.5px,#75d054 51.5px,#82d44c 53.5px,#82d44c 54.5px,#71cf56 56.5px,#34b779 60.5px,#21a685 62.5px,#20948c 64.5px,#2d718e 68.5px,#414387 71.5px,#482575 73.5px,#470e61 75.5px,#450558 77.5px,#471365 79.5px,#482374 81.5px,#482878 83.5px,#482878 108.5px,#481467)"></div><div style="left:132px;top:0;width:1px;height:114px;background:linear-gradient(#46085b,#48186b 11.5px,#443a83 21.5px,#31678e 31.5px,#1f958b 40.5px,#21a685 43.5px,#32b57a 46.5px,#61ca60 52.5px,#67cc5c 54.5px,#5ac864 56.5px,#2bb07e 60.5px,#1fa088 62.5px,#2a788e 67.5px,#34618d 69.5px,#414286 71.5px,#48186a 74.5px,#46075b 76.5px,#450558 77.5px,#471365 79.5px,#482878 82.5px,#482878 108.5px,#481466)"></div><div style="left:133px;top:0;width:1px;height:114px;background:linear-gradient(#46075b,#481769 11.5px,#453681 21.5px,#34618d 31.5px,#1f988b 42.5px,#22a784 45.5px,#49c16d 52.5px,#4fc36a 54.5px,#3cbb75 57.5px,#23a983 60.5px,#1f9a8a 62.5px,#2f6b8e 68.5px,#424086 71.5px,#481769 74.5px,#46075b 76.5px,#450558 77.5px,#482676 82.5px,#482677 108.5px,#481366)"></div><div style="left:134px;top:0;width:1px;height:114px;background:linear-gradient(#46075b,#48176a 12.5px,#453781 22.5px,#34608d 32.5px,#20948c 43.5px,#21a785 47.5px,#39ba76 53.5px,#37b977 55.5px,#22a884 59.5px,#20948c 62.5px,#31678e 68.5px,#433e85 71.5px,#481769 74.5px,#46075a 76.5px,#450558 77.5px,#482374 82.5px,#482374 108.5px,#471265)"></div><div style="left:135px;top:0;width:1px;height:114px;background:linear-gradient(#46075a,#481668 12.5px,#453681 23.5px,#33638d 34.5px,#1f998a 46.5px,#25ab82 51.5px,#2ab07f 54.5px,#20a586 58.5px,#228d8d 62.5px,#33648d 68.5px,#433c84 71.5px,#481668 74.5px,#46075a 76.5px,#450558 77.5px,#481f71 82.5px,#481d6f 109.5px,#471063)"></div><div style="left:136px;top:0;width:1px;height:114px;background:linear-gradient(#45065a,#481467 12.5px,#46337f 23.5px,#365c8d 34.5px,#1f978b 48.5px,#21a685 54.5px,#1e9c89 58.5px,#2e6e8e 66.5px,#34608d 68.5px,#443983 71.5px,#481568 74.5px,#46075a 76.5px,#450558 77.5px,#481b6d 82.5px,#481a6c 109.5px,#470e61)"></div><div style="left:137px;top:0;width:1px;height:114px;background:linear-gradient(#45065a,#481567 13.5px,#453581 25.5px,#33628d 37.5px,#1f978b 51.5px,#1e9c89 54.5px,#218f8d 59.5px,#365c8d 68.5px,#453782 71.5px,#481467 74.5px,#46075a 76.5px,#46075a 78.5px,#48176a 82.5px,#481668 109.5px,#470c5f)"></div><div style="left:138px;top:0;width:1px;height:114px;background:linear-gradient(#450659,#481366 13.5px,#46317e 25.5px,#365b8d 37.5px,#228d8d 51.5px,#20938c 54.5px,#24878e 59.5px,#355f8d 67.5px,#3d4d8a 69.5px,#482878 72.5px,#460c5f 75.5px,#450458 77.5px,#481467 82.5px,#471365 109.5px,#460b5e)"></div><div style="left:139px;top:0;width:1px;height:114px;background:linear-gradient(#450659,#471264 13.5px,#46307e 26.5px,#365c8d 39.5px,#24878e 52.5px,#23898e 55.5px,#2a778e 61.5px,#3a538b 68.5px,#46327f 71.5px,#471365 74.5px,#45065a 76.5px,#450659 78.5px,#471264 82.5px,#471163 109.5px,#46095d)"></div><div style="left:140px;top:0;width:1px;height:114px;background:linear-gradient(#450559,#471264 14.5px,#453580 29.5px,#34608d 42.5px,#27808e 53.5px,#297a8e 58.5px,#39558c 67.5px,#443b84 70.5px,#471265 74.5px,#45065a 76.5px,#450659 78.5px,#471063 83.5px,#470d60 110.5px,#46095c)"></div><div style="left:141px;top:0;width:1px;height:114px;background:linear-gradient(#450559,#471063 14.5px,#46337f 30.5px,#365c8d 43.5px,#2a788e 53.5px,#2c738e 58.5px,#3b518b 67.5px,#453882 70.5px,#471164 74.5px,#450659 76.5px,#46085b 79.5px,#470f61 83.5px,#470c5f 110.5px,#46085b)"></div><div style="left:142px;top:0;width:1px;height:114px;background:linear-gradient(#450558,#471063 15.5px,#463480 32.5px,#355e8d 46.5px,#2d718e 54.5px,#31668e 60.5px,#404688 68.5px,#472b7a 71.5px,#460a5d 75.5px,#450458 77.5px,#470e61 83.5px,#460b5e 110.5px,#46085b)"></div><div style="left:143px;top:0;width:1px;height:114px;background:linear-gradient(#450558,#470f62 15.5px,#472f7d 32.5px,#38578c 46.5px,#30698e 54.5px,#365d8d 61.5px,#414287 68.5px,#482878 71.5px,#460a5d 75.5px,#450558 78.5px,#470d60 84.5px,#460b5e 110.5px,#46075b)"></div><div style="left:144px;top:0;width:1px;height:114px;background:linear-gradient(#450558,#470f62 16.5px,#47307d 34.5px,#38588c 49.5px,#33628d 54.5px,#39578c 61.5px,#433e85 68.5px,#481d6f 72.5px,#46095d 75.5px,#450558 78.5px,#460c5f 84.5px,#460a5d 110.5px,#46075a)"></div><div style="left:145px;top:0;width:1px;height:114px;background:linear-gradient(#450558,#470e60 16.5px,#472e7c 35.5px,#3a548b 50.5px,#375b8d 54.5px,#3b518b 61.5px,#443a83 68.5px,#481c6e 72.5px,#450559 76.5px,#460a5d 81.5px,#46095d 110.5px,#46075a)"></div><div style="left:146px;top:0;width:1px;height:114px;background:linear-gradient(#450458,#470d60 17.5px,#472c7b 36.5px,#3b518b 52.5px,#3a538b 56.5px,#424086 65.5px,#47307d 69.5px,#46085c 75.5px,#450558 78.5px,#460b5e 85.5px,#46085b 111.5px,#45065a)"></div><div style="left:147px;top:0;width:1px;height:114px;background:linear-gradient(#450458,#470d60 18.5px,#472a79 37.5px,#3d4d8a 53.5px,#3f4788 60.5px,#46327f 68.5px,#46085c 75.5px,#450558 78.5px,#460a5d 85.5px,#46075b 111.5px,#45065a)"></div><div style="left:148px;top:0;width:1px;height:114px;background:linear-gradient(#450458,#470d60 19.5px,#482a79 39.5px,#3f4888 54.5px,#443c84 63.5px,#472f7c 68.5px,#46085b 75.5px,#450558 78.5px,#46095d 86.5px,#45065a 112.5px,#450659)"></div><div style="left:149px;top:0;width:1px;height:114px;background:linear-gradient(#450458,#470d60 20.5px,#482878 40.5px,#414286 54.5px,#453580 64.5px,#482777 69.5px,#46075b 75.5px,#450558 78.5px,#46095c 87.5px,#450659)"></div><div style="left:150px;top:0;width:1px;height:114px;background:linear-gradient(#450458,#470d60 21.5px,#482878 42.5px,#433c84 54.5px,#46317e 64.5px,#482475 69.5px,#46075b 75.5px,#450559 79.5px,#46085c 100.5px,#450659)"></div><div style="left:151px;top:0;width:1px;height:114px;background:linear-gradient(#450457,#470c5f 22.5px,#482777 44.5px,#453782 54.5px,#472b7a 65.5px,#482172 69.5px,#46075a 75.5px,#450559 79.5px,#46085b 109.5px,#450559)"></div><div style="left:152px;top:0;width:1px;height:114px;background:linear-gradient(#450457,#460c5f 23.5px,#482576 45.5px,#46327f 55.5px,#482575 67.5px,#450558 76.5px,#46075b 109.5px,#450559)"></div><div style="left:153px;top:0;width:1px;height:114px;background:linear-gradient(#450457,#460c5f 24.5px,#482575 47.5px,#472e7c 55.5px,#482071 68.5px,#45065a 75.5px,#450659 80.5px,#450559)"></div><div style="left:154px;top:0;width:1px;height:114px;background:linear-gradient(#450457,#460c5f 26.5px,#482576 50.5px,#482a79 56.5px,#481d6f 68.5px,#450558 76.5px,#450559)"></div><div style="left:155px;top:0;width:1px;height:114px;background:linear-gradient(#450457,#460b5e 27.5px,#482677 55.5px,#481b6d 68.5px,#450458 76.5px,#450558)"></div><div style="left:156px;top:0;width:1px;height:114px;background:linear-gradient(#450457,#460b5f 29.5px,#482374 55.5px,#48196b 68.5px,#450458 76.5px,#450558)"></div><div style="left:157px;top:0;width:1px;height:114px;background:linear-gradient(#450457,#460c5f 31.5px,#482071 56.5px,#481567 69.5px,#450458 76.5px,#450558)"></div><div style="left:158px;top:0;width:1px;height:114px;background:linear-gradient(#450457,#460b5e 32.5px,#481d6f 56.5px,#471366 69.5px,#450458 76.5px,#450558)"></div><div style="left:159px;top:0;width:1px;height:114px;background:linear-gradient(#450457,#460b5e 34.5px,#481a6c 56.5px,#471164 69.5px,#450458 76.5px,#450558)"></div><div style="left:160px;top:0;width:1px;height:114px;background:linear-gradient(#450457,#460b5e 36.5px,#48186a 56.5px,#470e61 70.5px,#450457 77.5px,#450558)"></div><div style="left:161px;top:0;width:2px;height:114px;background:linear-gradient(#450457,#460b5e 38.5px,#481567 57.5px,#470c60 70.5px,#450457 78.5px,#450458)"></div><div style="left:163px;top:0;width:2px;height:114px;background:linear-gradient(#450457,#460b5e 42.5px,#471164 58.5px,#46095c 71.5px,#450458 79.5px,#450458)"></div><div style="left:165px;top:0;width:2px;height:114px;background:linear-gradient(#450457,#460a5d 45.5px,#470e61 60.5px,#450558 80.5px,#450458)"></div><div style="left:167px;top:0;width:2px;height:114px;background:linear-gradient(#450457,#460a5d 49.5px,#46095d 68.5px,#450458 80.5px,#450458)"></div><div style="left:169px;top:0;width:3px;height:114px;background:linear-gradient(#450457,#46085c 67.5px,#450558 84.5px,#450458)"></div><div style="left:172px;top:0;width:5px;height:114px;background:linear-gradient(#450457,#450559 71.5px,#450457)"></div><div style="left:177px;top:0;width:15px;height:114px;background:#450457"></div><div style="left:192px;top:0;width:63px;height:114px;background:#450457"></div></div>
<div style="left:60px;top:192px;width:255px;height:114px"><div style="left:0px;top:0;width:113px;height:114px;background:linear-gradient(#481668,#46327f 6.5px,#38588c 15.5px,#20948c 30.5px,#21a585 34.5px,#2bb17e 36.5px,#44bf70 38.5px,#93d741 42.5px,#c5e022 45.5px,#e1e318 47.5px,#f7e620 49.5px,#fde725 52.5px,#fbe723 57.5px,#e8e419 59.5px,#d9e219 60.5px,#c5e022 61.5px,#78d152 64.5px,#51c469 66.5px,#36b878 68.5px,#25ac82 70.5px,#1e9d89 73.5px,#2a798e 82.5px,#414387 100.5px,#482676 109.5px,#481669)"></div><div style="left:113px;top:0;width:1px;height:114px;background:linear-gradient(#481668,#46327f 6.5px,#38588c 15.5px,#20948c 30.5px,#21a585 34.5px,#2bb17e 36.5px,#44bf70 38.5px,#93d741 42.5px,#c5e022 45.5px,#e1e318 47.5px,#f6e620 49.5px,#fde725 52.5px,#fce724 57.5px,#e9e41a 59.5px,#dae319 60.5px,#c6e021 61.5px,#7bd251 64.5px,#54c667 66.5px,#38b977 68.5px,#27ad81 70.5px,#1f9f88 73.5px,#297a8e 82.5px,#414487 100.5px,#482676 109.5px,#481769)"></div><div style="left:114px;top:0;width:1px;height:114px;background:linear-gradient(#481668,#46327f 6.5px,#38588c 15.5px,#20948c 30.5px,#21a585 34.5px,#2bb17e 36.5px,#44bf70 38.5px,#93d741 42.5px,#c5e022 45.5px,#e1e318 47.5px,#f6e620 49.5px,#fde725 52.5px,#fce724 57.5px,#eae51a 59.5px,#dbe319 60.5px,#c8e020 61.5px,#7dd24f 64.5px,#56c666 66.5px,#3aba76 68.5px,#28ae80 70.5px,#1fa088 73.5px,#287b8e 82.5px,#404588 100.5px,#482777 109.5px,#481769)"></div><div style="left:115px;top:0;width:1px;height:114px;background:linear-gradient(#481668,#46327f 6.5px,#38588c 15.5px,#20948c 30.5px,#21a585 34.5px,#2bb17e 36.5px,#44bf70 38.5px,#93d741 42.5px,#c5e022 45.5px,#e1e318 47.5px,#f6e620 49.5px,#fde724 52.5px,#fde724 57.5px,#ebe51a 59.5px,#dde318 60.5px,#cae01f 61.5px,#80d34d 64.5px,#4ac16d 67.5px,#2ab07f 70.5px,#1fa287 73.5px,#24878e 79.5px,#3f4989 99.5px,#482777 109.5px,#48176a)"></div><div style="left:116px;top:0;width:1px;height:114px;background:linear-gradient(#481668,#46327f 6.5px,#38588c 15.5px,#20948c 30.5px,#21a585 34.5px,#2bb17e 36.5px,#44bf70 38.5px,#93d741 42.5px,#c5e022 45.5px,#e1e318 47.5px,#f6e620 49.5px,#fde724 52.5px,#fde725 57.5px,#ede51b 59.5px,#dfe318 60.5px,#cce11e 61.5px,#84d44b 64.5px,#4fc36a 67.5px,#2eb37d 70.5px,#21a586 73.5px,#218f8d 78.5px,#3b518b 97.5px,#47307d 107.5px,#48186a)"></div><div style="left:117px;top:0;width:1px;height:114px;background:linear-gradient(#481668,#46327f 6.5px,#38588c 15.5px,#20948c 30.5px,#21a585 34.5px,#2bb17e 36.5px,#44bf70 38.5px,#93d741 42.5px,#c5e022 45.5px,#e1e318 47.5px,#f6e61f 49.5px,#fde724 52.5px,#fde725 57.5px,#efe51c 59.5px,#e2e418 60.5px,#d0e11c 61.5px,#8bd647 64.5px,#55c667 67.5px,#33b679 70.5px,#23a983 73.5px,#1f978b 77.5px,#30698e 90.5px,#433c84 104.5px,#481d6f 112.5px,#48196b)"></div><div style="left:118px;top:0;width:1px;height:114px;background:linear-gradient(#481668,#46327f 6.5px,#38588c 15.5px,#20948c 30.5px,#21a585 34.5px,#2bb17e 36.5px,#44bf70 38.5px,#93d742 42.5px,#c4e022 45.5px,#e0e318 47.5px,#f5e61f 49.5px,#fce724 52.5px,#fbe723 58.5px,#e6e419 60.5px,#d5e21a 61.5px,#c0df24 62.5px,#93d741 64.5px,#5ec962 67.5px,#3bbb75 70.5px,#24aa83 74.5px,#1f988b 78.5px,#34608d 94.5px,#453781 106.5px,#481a6c)"></div><div style="left:119px;top:0;width:1px;height:114px;background:linear-gradient(#481668,#46327f 6.5px,#38588c 15.5px,#20948c 30.5px,#21a585 34.5px,#2bb17e 36.5px,#44bf70 38.5px,#92d742 42.5px,#c4e022 45.5px,#e0e318 47.5px,#f5e61f 49.5px,#fde724 53.5px,#fde725 58.5px,#eae51a 60.5px,#dbe319 61.5px,#c8e020 62.5px,#8ad547 65.5px,#5cc863 68.5px,#3ebc74 71.5px,#26ac82 75.5px,#1f9e89 78.5px,#2d708e 90.5px,#424186 104.5px,#482475 111.5px,#481b6d)"></div><div style="left:120px;top:0;width:1px;height:114px;background:linear-gradient(#481668,#46327f 6.5px,#38588c 15.5px,#20948c 30.5px,#21a585 34.5px,#2bb17e 36.5px,#44bf70 38.5px,#92d742 42.5px,#c4e022 45.5px,#dfe318 47.5px,#f4e61e 49.5px,#fde725 54.5px,#fde725 58.5px,#f9e622 59.5px,#e1e318 61.5px,#cfe11c 62.5px,#95d840 65.5px,#68cc5c 68.5px,#4ac16d 71.5px,#28ae80 76.5px,#1f9f88 79.5px,#2b758e 90.5px,#414387 104.5px,#482676 111.5px,#481d6e)"></div><div style="left:121px;top:0;width:1px;height:114px;background:linear-gradient(#481668,#46327f 6.5px,#38588c 15.5px,#20948c 30.5px,#21a586 34.5px,#2bb17e 36.5px,#44bf71 38.5px,#92d742 42.5px,#c3e023 45.5px,#dee318 47.5px,#f3e61e 49.5px,#fde725 55.5px,#fce724 59.5px,#e7e419 61.5px,#d6e21a 62.5px,#91d743 66.5px,#6acd5a 69.5px,#30b47b 76.5px,#21a685 79.5px,#20918c 84.5px,#39558c 100.5px,#46317e 109.5px,#481e70)"></div><div style="left:122px;top:0;width:1px;height:114px;background:linear-gradient(#481568,#46327e 6.5px,#38588c 15.5px,#20948c 30.5px,#21a586 34.5px,#2bb17e 36.5px,#44bf71 38.5px,#92d742 42.5px,#c2df23 45.5px,#dde318 47.5px,#f1e51d 49.5px,#fde725 56.5px,#fde725 59.5px,#ebe51a 61.5px,#dce319 62.5px,#abdc32 65.5px,#82d34c 68.5px,#4bc26c 74.5px,#2ab07f 78.5px,#20a387 81.5px,#23898d 87.5px,#3d4c8a 103.5px,#472e7c 110.5px,#481f71)"></div><div style="left:123px;top:0;width:1px;height:114px;background:linear-gradient(#481568,#46327e 6.5px,#38588c 15.5px,#20948c 30.5px,#21a586 34.5px,#2bb17e 36.5px,#43bf71 38.5px,#91d743 42.5px,#c1df24 45.5px,#dbe319 47.5px,#eee51b 49.5px,#fde725 56.5px,#fde725 59.5px,#ede51b 61.5px,#dfe318 62.5px,#c0df24 64.5px,#8ad647 68.5px,#42be71 76.5px,#2aaf7f 79.5px,#1f9f88 83.5px,#2b758e 93.5px,#414287 106.5px,#482072)"></div><div style="left:124px;top:0;width:1px;height:114px;background:linear-gradient(#481567,#46317e 6.5px,#38588c 15.5px,#20938c 30.5px,#20a586 34.5px,#2bb07e 36.5px,#43be71 38.5px,#90d743 42.5px,#bfdf25 45.5px,#d8e219 47.5px,#e9e41a 49.5px,#f4e61e 54.5px,#fde725 56.5px,#fce723 59.5px,#ebe51a 61.5px,#dfe318 62.5px,#b3dd2c 65.5px,#8ed645 68.5px,#46c06f 76.5px,#2cb27e 79.5px,#1fa188 83.5px,#277e8e 91.5px,#3f4788 105.5px,#482676 112.5px,#482172)"></div><div style="left:125px;top:0;width:1px;height:114px;background:linear-gradient(#481567,#46317e 6.5px,#38588c 15.5px,#20938c 30.5px,#20a586 34.5px,#2ab07f 36.5px,#42be71 38.5px,#8fd744 42.5px,#bddf26 45.5px,#dce319 48.5px,#e5e419 50.5px,#e8e419 53.5px,#fbe723 57.5px,#f5e61f 59.5px,#e6e419 61.5px,#d9e219 62.5px,#95d840 67.5px,#70cf57 71.5px,#3cbb75 77.5px,#27ad81 80.5px,#1e9c89 84.5px,#2e6f8e 95.5px,#414387 106.5px,#482172)"></div><div style="left:126px;top:0;width:1px;height:114px;background:linear-gradient(#481466,#46307e 6.5px,#38578c 15.5px,#20938c 30.5px,#20a486 34.5px,#2ab07f 36.5px,#42be72 38.5px,#8dd645 42.5px,#b9de29 45.5px,#d4e21b 48.5px,#d9e219 50.5px,#dce319 53.5px,#f0e51c 57.5px,#eae51a 59.5px,#dbe319 61.5px,#bedf26 63.5px,#8ad547 67.5px,#67cc5d 71.5px,#36b878 77.5px,#24aa83 80.5px,#1f9a8a 84.5px,#31668e 97.5px,#433e85 107.5px,#482172)"></div><div style="left:127px;top:0;width:1px;height:114px;background:linear-gradient(#471365,#47307d 6.5px,#3a538b 14.5px,#218f8d 29.5px,#20a486 34.5px,#29af7f 36.5px,#40bd72 38.5px,#8ad647 42.5px,#a8db34 44.5px,#c1df24 47.5px,#c9e01f 49.5px,#c6e021 52.5px,#d2e21b 55.5px,#dde318 57.5px,#d9e219 59.5px,#c9e020 61.5px,#83d44b 66.5px,#5dc962 70.5px,#2db27d 77.5px,#21a586 80.5px,#218e8d 86.5px,#3b518b 102.5px,#472e7c 110.5px,#482071)"></div><div style="left:128px;top:0;width:1px;height:114px;background:linear-gradient(#471164,#472f7c 6.5px,#3b528b 14.5px,#218e8d 29.5px,#20a386 34.5px,#29af80 36.5px,#3fbc73 38.5px,#86d549 42.5px,#a1da38 44.5px,#afdd2f 46.5px,#b1dd2e 49.5px,#a8db33 52.5px,#b5de2b 55.5px,#c2df23 57.5px,#bedf26 59.5px,#aedc30 61.5px,#76d054 65.5px,#56c666 68.5px,#32b57a 74.5px,#21a585 78.5px,#21908c 84.5px,#3b528b 101.5px,#46317e 109.5px,#481e70)"></div><div style="left:129px;top:0;width:1px;height:114px;background:linear-gradient(#470f62,#472d7b 6.5px,#3b508b 14.5px,#228d8d 29.5px,#1fa287 34.5px,#27ae80 36.5px,#3cbb75 38.5px,#80d34d 42.5px,#8fd644 43.5px,#98d83e 44.5px,#9cd93b 46.5px,#8fd744 49.5px,#81d34d 51.5px,#81d34d 53.5px,#99d93e 57.5px,#97d83f 59.5px,#89d548 61.5px,#56c666 65.5px,#3cbb75 68.5px,#27ad81 73.5px,#1e9b8a 78.5px,#31688e 94.5px,#433c84 106.5px,#481d6f)"></div><div style="left:130px;top:0;width:1px;height:114px;background:linear-gradient(#460b5e,#472a7a 6.5px,#3c4f8a 14.5px,#228b8d 29.5px,#1fa188 34.5px,#26ac82 36.5px,#39b977 38.5px,#77d153 42.5px,#84d44b 43.5px,#8ad647 44.5px,#89d548 45.5px,#77d153 47.5px,#54c667 50.5px,#4cc26c 51.5px,#4bc26d 53.5px,#62cb5f 57.5px,#64cb5e 59.5px,#5bc864 61.5px,#3cbb75 64.5px,#29af80 67.5px,#1fa188 72.5px,#287d8e 86.5px,#3f4889 102.5px,#482978 110.5px,#481c6d)"></div><div style="left:131px;top:0;width:1px;height:114px;background:linear-gradient(#482071,#46307e 12.5px,#375b8d 28.5px,#297a8e 39.5px,#1e9c89 48.5px,#20a387 53.5px,#1f978b 61.5px,#2e6d8e 79.5px,#433d84 101.5px,#482475)"></div><div style="left:132px;top:0;width:1px;height:114px;background:linear-gradient(#481b6d,#472c7b 14.5px,#39558c 32.5px,#2f6b8e 40.5px,#238a8d 49.5px,#228c8d 55.5px,#2b758e 67.5px,#414287 93.5px,#481f70)"></div><div style="left:133px;top:0;width:1px;height:114px;background:linear-gradient(#481769,#482677 15.5px,#3d4c8a 35.5px,#2a788e 49.5px,#297a8e 55.5px,#355f8d 70.5px,#453681 94.5px,#481a6c)"></div><div style="left:134px;top:0;width:1px;height:114px;background:linear-gradient(#481466,#482374 17.5px,#404688 38.5px,#30698e 49.5px,#2f6b8e 55.5px,#443a83 86.5px,#481769)"></div><div style="left:135px;top:0;width:1px;height:114px;background:linear-gradient(#471164,#482173 20.5px,#443b83 38.5px,#365c8d 49.5px,#355d8d 56.5px,#46327e 86.5px,#481466)"></div><div style="left:136px;top:0;width:1px;height:114px;background:linear-gradient(#470f62,#482071 23.5px,#46317e 38.5px,#3b528b 50.5px,#3c508b 58.5px,#46327f 80.5px,#471264)"></div><div style="left:137px;top:0;width:1px;height:114px;background:linear-gradient(#470d60,#481f71 28.5px,#472c7b 39.5px,#3f4788 50.5px,#404588 58.5px,#472b7a 80.5px,#471062)"></div><div style="left:138px;top:0;width:1px;height:114px;background:linear-gradient(#460c5f,#482071 35.5px,#463480 45.5px,#423f86 52.5px,#463480 65.5px,#471164 108.5px,#470e61)"></div><div style="left:139px;top:0;width:1px;height:114px;background:linear-gradient(#460b5e,#481d6f 37.5px,#453782 51.5px,#47307d 63.5px,#471264 104.5px,#470d60)"></div><div style="left:140px;top:0;width:1px;height:114px;background:linear-gradient(#460a5d,#481b6d 38.5px,#46317e 52.5px,#470c5f 112.5px,#460c5f)"></div><div style="left:141px;top:0;width:1px;height:114px;background:linear-gradient(#46095c,#48186b 39.5px,#472b7a 52.5px,#460b5e)"></div><div style="left:142px;top:0;width:1px;height:114px;background:linear-gradient(#46085c,#481769 40.5px,#482676 52.5px,#460a5d)"></div><div style="left:143px;top:0;width:1px;height:114px;background:linear-gradient(#46085b,#481467 40.5px,#482173 53.5px,#46095d)"></div><div style="left:144px;top:0;width:1px;height:114px;background:linear-gradient(#46075b,#471365 41.5px,#481e6f 53.5px,#46095c)"></div><div style="left:145px;top:0;width:1px;height:114px;background:linear-gradient(#46075b,#471164 41.5px,#481a6c 54.5px,#46085c)"></div><div style="left:146px;top:0;width:1px;height:114px;background:linear-gradient(#46075a,#471063 42.5px,#48186a 55.5px,#46085b)"></div><div style="left:147px;top:0;width:1px;height:114px;background:linear-gradient(#46075a,#470f62 43.5px,#481568 56.5px,#46085b)"></div><div style="left:148px;top:0;width:2px;height:114px;background:linear-gradient(#45065a,#470e61 44.5px,#471264 58.5px,#46075b)"></div><div style="left:150px;top:0;width:2px;height:114px;background:linear-gradient(#45065a,#470d60 46.5px,#470c5f 75.5px,#46075a)"></div><div style="left:152px;top:0;width:3px;height:114px;background:linear-gradient(#450659,#460b5e 67.5px,#45065a)"></div><div style="left:155px;top:0;width:4px;height:114px;background:linear-gradient(#450659,#46085c 84.5px,#45065a)"></div><div style="left:159px;top:0;width:9px;height:114px;background:#45065a"></div><div style="left:168px;top:0;width:87px;height:114px;background:#450559"></div></div>
<div style="left:378px;top:192px;width:255px;height:114px"><div style="left:0px;top:0;width:64px;height:114px;background:#450559"></div><div style="left:64px;top:0;width:15px;height:114px;background:#46075b"></div><div style="left:79px;top:0;width:8px;height:114px;background:#46095c"></div><div style="left:87px;top:0;width:6px;height:114px;background:#460a5d"></div><div style="left:93px;top:0;width:6px;height:114px;background:linear-gradient(#470c5f,#460b5e 80.5px,#46095c)"></div><div style="left:99px;top:0;width:4px;height:114px;background:linear-gradient(#470e61,#470d60 73.5px,#460a5d)"></div><div style="left:103px;top:0;width:2px;height:114px;background:linear-gradient(#471063,#470f61 71.5px,#460a5d)"></div><div style="left:105px;top:0;width:2px;height:114px;background:linear-gradient(#481366,#471366 51.5px,#460a5e)"></div><div style="left:107px;top:0;width:2px;height:114px;background:linear-gradient(#481769,#481466 41.5px,#471265 67.5px,#460b5e)"></div><div style="left:109px;top:0;width:2px;height:114px;background:linear-gradient(#481b6d,#481568 37.5px,#481668 64.5px,#470c5f 99.5px,#460b5e)"></div><div style="left:111px;top:0;width:2px;height:114px;background:linear-gradient(#481e6f,#48186a 36.5px,#48196b 62.5px,#470e61 91.5px,#460b5f)"></div><div style="left:113px;top:0;width:1px;height:114px;background:linear-gradient(#481f71,#481b6d 38.5px,#481b6d 62.5px,#470f62 88.5px,#460c5f)"></div><div style="left:114px;top:0;width:1px;height:114px;background:linear-gradient(#482071,#481e6f 43.5px,#481c6e 63.5px,#471062 87.5px,#460c5f)"></div><div style="left:115px;top:0;width:1px;height:114px;background:linear-gradient(#482172,#481e70 62.5px,#471163 85.5px,#470c5f)"></div><div style="left:116px;top:0;width:1px;height:114px;background:linear-gradient(#482273,#482172 61.5px,#471164 84.5px,#470c5f)"></div><div style="left:117px;top:0;width:1px;height:114px;background:linear-gradient(#482474,#482475 60.5px,#471265 83.5px,#470c5f)"></div><div style="left:118px;top:0;width:1px;height:114px;background:linear-gradient(#482777,#482978 58.5px,#481366 82.5px,#470d60)"></div><div style="left:119px;top:0;width:1px;height:114px;background:linear-gradient(#46337f,#472d7b 58.5px,#481467 81.5px,#470d60)"></div><div style="left:120px;top:0;width:1px;height:114px;background:linear-gradient(#424086,#46327f 58.5px,#481668 80.5px,#470e61)"></div><div style="left:121px;top:0;width:1px;height:114px;background:linear-gradient(#3e4b89,#433d85 52.5px,#472f7d 64.5px,#48186a 79.5px,#470f62)"></div><div style="left:122px;top:0;width:1px;height:114px;background:linear-gradient(#3a548c,#3e4a89 43.5px,#443b84 60.5px,#481a6c 78.5px,#471063 112.5px,#471063)"></div><div style="left:123px;top:0;width:1px;height:114px;background:linear-gradient(#355e8d,#3a548c 40.5px,#414287 59.5px,#481c6e 78.5px,#471265 108.5px,#471264)"></div><div style="left:124px;top:0;width:1px;height:114px;background:linear-gradient(#30698e,#365d8d 39.5px,#3f4889 59.5px,#481f71 77.5px,#481466 102.5px,#481366)"></div><div style="left:125px;top:0;width:1px;height:114px;background:linear-gradient(#2b768e,#33638d 41.5px,#3c4e8a 59.5px,#482a79 73.5px,#481e6f 82.5px,#481567 106.5px,#481567)"></div><div style="left:126px;top:0;width:1px;height:114px;background:linear-gradient(#24868e,#31678e 46.5px,#39568c 59.5px,#46327e 72.5px,#482273 81.5px,#481769 102.5px,#481769)"></div><div style="left:127px;top:0;width:1px;height:114px;background:linear-gradient(#1f9f88,#2b758e 43.5px,#33628d 58.5px,#443b84 71.5px,#482878 80.5px,#48186b 100.5px,#48186a)"></div><div style="left:128px;top:0;width:1px;height:114px;background:linear-gradient(#37b877,#22a884 13.5px,#1f948c 28.5px,#2d718e 56.5px,#3e4a89 69.5px,#47307d 78.5px,#481c6e 99.5px,#481a6c)"></div><div style="left:129px;top:0;width:1px;height:114px;background:linear-gradient(#6ece58,#3aba76 15.5px,#23a983 26.5px,#1f978b 38.5px,#2a788e 57.5px,#404688 72.5px,#46327f 80.5px,#481f70 102.5px,#481b6d)"></div><div style="left:130px;top:0;width:1px;height:114px;background:linear-gradient(#aedc2f,#4fc46a 22.5px,#29af7f 34.5px,#1f9e89 43.5px,#29798e 59.5px,#414387 75.5px,#46307e 86.5px,#481d6e)"></div><div style="left:131px;top:0;width:1px;height:114px;background:linear-gradient(#d9e219,#b1dd2e 9.5px,#52c569 29.5px,#2ab07f 40.5px,#1f9f88 47.5px,#27808e 59.5px,#404688 76.5px,#46317e 90.5px,#481e70)"></div><div style="left:132px;top:0;width:1px;height:114px;background:linear-gradient(#eae51a,#d1e11c 7.5px,#97d83f 20.5px,#46c06f 37.5px,#27ad81 45.5px,#1f9e89 51.5px,#2a788e 63.5px,#3f4889 77.5px,#46317e 94.5px,#481f71)"></div><div style="left:133px;top:0;width:1px;height:114px;background:linear-gradient(#efe51c,#d6e21a 8.5px,#abdc32 18.5px,#53c568 36.5px,#2bb17e 45.5px,#1fa187 51.5px,#24868e 60.5px,#3d4c8a 77.5px,#463480 94.5px,#481f71)"></div><div style="left:134px;top:0;width:1px;height:114px;background:linear-gradient(#e5e419,#cde11d 8.5px,#8fd644 23.5px,#47c06e 38.5px,#27ad81 46.5px,#1e9d89 52.5px,#2b758e 65.5px,#3d4c8a 78.5px,#472f7d 99.5px,#481f71)"></div><div style="left:135px;top:0;width:1px;height:114px;background:linear-gradient(#cfe11c,#b3dd2d 11.5px,#60ca61 32.5px,#2bb17e 44.5px,#1fa187 50.5px,#25858e 60.5px,#3d4c8a 78.5px,#472d7c 99.5px,#481f70)"></div><div style="left:136px;top:0;width:1px;height:114px;background:linear-gradient(#b8de29,#9fda3a 11.5px,#54c568 32.5px,#28ae80 43.5px,#1f9f88 49.5px,#29798e 62.5px,#3f4989 78.5px,#472b7a 99.5px,#481d6f)"></div><div style="left:137px;top:0;width:1px;height:114px;background:linear-gradient(#97d83f,#79d151 13.5px,#37b877 34.5px,#20a586 43.5px,#218e8d 52.5px,#3b518b 73.5px,#443a83 84.5px,#481b6d)"></div><div style="left:138px;top:0;width:1px;height:114px;background:linear-gradient(#5fc961,#4bc26c 14.5px,#22a784 36.5px,#20938c 45.5px,#375a8c 67.5px,#443b84 79.5px,#481f70 106.5px,#48196b)"></div><div style="left:139px;top:0;width:1px;height:114px;background:linear-gradient(#2fb37c,#21a685 22.5px,#20928c 38.5px,#39568c 65.5px,#453681 79.5px,#48196b 111.5px,#48176a)"></div><div style="left:140px;top:0;width:1px;height:114px;background:linear-gradient(#1e9c89,#218f8d 25.5px,#297a8e 42.5px,#3e4b89 66.5px,#472f7d 80.5px,#481668)"></div><div style="left:141px;top:0;width:1px;height:114px;background:linear-gradient(#25858e,#2d708e 36.5px,#3b518b 60.5px,#472c7b 79.5px,#481567)"></div><div style="left:142px;top:0;width:1px;height:114px;background:linear-gradient(#2c738e,#38578c 49.5px,#404487 63.5px,#482877 79.5px,#481467)"></div><div style="left:143px;top:0;width:1px;height:114px;background:linear-gradient(#31668e,#3f4989 56.5px,#482676 77.5px,#481567 110.5px,#481466)"></div><div style="left:144px;top:0;width:1px;height:114px;background:linear-gradient(#365b8d,#433f85 58.5px,#482071 80.5px,#481366 112.5px,#481366)"></div><div style="left:145px;top:0;width:1px;height:114px;background:linear-gradient(#3c508b,#453781 58.5px,#481c6e 82.5px,#481366 108.5px,#471365)"></div><div style="left:146px;top:0;width:1px;height:114px;background:linear-gradient(#414387,#463480 52.5px,#481769 86.5px,#471265 111.5px,#471265)"></div><div style="left:147px;top:0;width:1px;height:114px;background:linear-gradient(#453882,#47307d 48.5px,#481f70 71.5px,#471063 101.5px,#471264)"></div><div style="left:148px;top:0;width:1px;height:114px;background:linear-gradient(#46317e,#482878 58.5px,#481466 85.5px,#471063 110.5px,#471164)"></div><div style="left:149px;top:0;width:1px;height:114px;background:linear-gradient(#472c7b,#482474 61.5px,#471365 84.5px,#471063 110.5px,#471164)"></div><div style="left:150px;top:0;width:1px;height:114px;background:linear-gradient(#482a79,#482173 61.5px,#471164 85.5px,#471063 111.5px,#471164)"></div><div style="left:151px;top:0;width:1px;height:114px;background:linear-gradient(#482878,#481f70 62.5px,#471163 85.5px,#471063 112.5px,#471163)"></div><div style="left:152px;top:0;width:2px;height:114px;background:linear-gradient(#482575,#481c6e 62.5px,#471062 86.5px,#471063)"></div><div style="left:154px;top:0;width:2px;height:114px;background:linear-gradient(#482273,#48186a 63.5px,#470e61 88.5px,#471063)"></div><div style="left:156px;top:0;width:2px;height:114px;background:linear-gradient(#481f70,#481567 64.5px,#470d60 90.5px,#471062)"></div><div style="left:158px;top:0;width:3px;height:114px;background:linear-gradient(#481c6e,#471164 66.5px,#470d60 98.5px,#470f62)"></div><div style="left:161px;top:0;width:4px;height:114px;background:linear-gradient(#481a6c,#470e61 70.5px,#470e61)"></div><div style="left:165px;top:0;width:4px;height:114px;background:linear-gradient(#48186a,#460b5f 99.5px,#470d60)"></div><div style="left:169px;top:0;width:5px;height:114px;background:linear-gradient(#481668,#460b5e 103.5px,#470d60)"></div><div style="left:174px;top:0;width:6px;height:114px;background:linear-gradient(#481466,#460a5d 105.5px,#460c5f)"></div><div style="left:180px;top:0;width:8px;height:114px;background:linear-gradient(#471264,#460a5d 107.5px,#460b5e)"></div><div style="left:188px;top:0;width:11px;height:114px;background:linear-gradient(#471063,#46095c 110.5px,#46095d)"></div><div style="left:199px;top:0;width:12px;height:114px;background:linear-gradient(#470e61,#46085c)"></div><div style="left:211px;top:0;width:13px;height:114px;background:linear-gradient(#460c5f,#46075b)"></div><div style="left:224px;top:0;width:21px;height:114px;background:linear-gradient(#46095d,#46075a)"></div><div style="left:245px;top:0;width:10px;height:114px;background:#46065a"></div></div>
<div style="left:60px;top:354px;width:255px;height:114px"><div style="left:0px;top:0;width:111px;height:114px;background:linear-gradient(#471164,#463480 5.5px,#38588c 11.5px,#20948c 23.5px,#22a784 27.5px,#34b779 31.5px,#69cd5b 39.5px,#80d34d 44.5px,#86d549 47.5px,#7fd34e 52.5px,#69cd5b 55.5px,#35b779 59.5px,#23a884 62.5px,#1f998a 65.5px,#2d718e 76.5px,#414287 91.5px,#481e70 104.5px,#450659)"></div><div style="left:111px;top:0;width:2px;height:114px;background:linear-gradient(#471164,#463480 5.5px,#38588c 11.5px,#20948c 23.5px,#22a784 27.5px,#34b779 31.5px,#69cd5b 39.5px,#81d34d 44.5px,#87d549 47.5px,#7fd34e 52.5px,#69cd5b 55.5px,#35b779 59.5px,#23a884 62.5px,#1f998a 65.5px,#306a8e 78.5px,#423f85 91.5px,#481f70 104.5px,#450659)"></div><div style="left:113px;top:0;width:2px;height:114px;background:linear-gradient(#471164,#463480 5.5px,#38588c 11.5px,#20948c 23.5px,#22a784 27.5px,#34b779 31.5px,#69cd5b 39.5px,#81d34d 44.5px,#87d549 47.5px,#80d34d 52.5px,#6acd5b 55.5px,#35b779 59.5px,#23a884 62.5px,#1f998a 65.5px,#31668e 79.5px,#433c84 91.5px,#481f70 104.5px,#450659)"></div><div style="left:115px;top:0;width:2px;height:114px;background:linear-gradient(#471264,#463480 5.5px,#38588c 11.5px,#20948c 23.5px,#22a784 27.5px,#35b779 31.5px,#6acd5b 39.5px,#82d44c 44.5px,#88d548 47.5px,#80d34d 52.5px,#6acd5a 55.5px,#35b778 59.5px,#23a984 62.5px,#1f998a 65.5px,#32658e 79.5px,#443982 91.5px,#481f70 104.5px,#450659)"></div><div style="left:117px;top:0;width:2px;height:114px;background:linear-gradient(#471264,#463480 5.5px,#38588c 11.5px,#20948c 23.5px,#22a884 27.5px,#35b779 31.5px,#6bcd5a 39.5px,#83d44b 44.5px,#8ad547 47.5px,#82d44c 52.5px,#6bcd5a 55.5px,#36b878 59.5px,#23a983 62.5px,#1f998a 65.5px,#32648e 79.5px,#443983 90.5px,#472e7c 95.5px,#482273 103.5px,#450659)"></div><div style="left:119px;top:0;width:2px;height:114px;background:linear-gradient(#471264,#463480 5.5px,#38588c 11.5px,#1f958c 23.5px,#22a884 27.5px,#36b878 31.5px,#6dce59 39.5px,#86d44a 44.5px,#8cd646 47.5px,#84d44b 52.5px,#6dce59 55.5px,#54c667 57.5px,#37b878 59.5px,#23a983 62.5px,#1f9a8a 65.5px,#31678e 78.5px,#433c84 89.5px,#472e7c 94.5px,#482575 102.5px,#45065a)"></div><div style="left:121px;top:0;width:1px;height:114px;background:linear-gradient(#471265,#453580 5.5px,#38588c 11.5px,#21908d 22.5px,#20a486 26.5px,#30b47b 30.5px,#69cd5c 38.5px,#85d44a 43.5px,#8fd744 47.5px,#87d549 52.5px,#70cf57 55.5px,#56c666 57.5px,#38b977 59.5px,#24aa83 62.5px,#1f9a8a 65.5px,#31678e 78.5px,#433c84 89.5px,#472e7c 94.5px,#482575 102.5px,#45065a)"></div><div style="left:122px;top:0;width:1px;height:114px;background:linear-gradient(#471265,#453580 5.5px,#38598c 11.5px,#21908d 22.5px,#20a586 26.5px,#31b57b 30.5px,#6bcd5a 38.5px,#87d549 43.5px,#92d742 47.5px,#89d547 52.5px,#72cf56 55.5px,#58c765 57.5px,#39ba76 59.5px,#24ab82 62.5px,#1e9b8a 65.5px,#30688e 78.5px,#433d85 89.5px,#472f7d 94.5px,#482273 103.5px,#45065a)"></div><div style="left:123px;top:0;width:1px;height:114px;background:linear-gradient(#471265,#453580 5.5px,#37598c 11.5px,#21908c 22.5px,#21a586 26.5px,#32b57a 30.5px,#6dce59 38.5px,#8bd646 43.5px,#97d83f 47.5px,#8dd645 52.5px,#75d054 55.5px,#5ac864 57.5px,#3bbb75 59.5px,#25ab82 62.5px,#1e9c89 65.5px,#2f6d8e 77.5px,#423f85 89.5px,#46317e 94.5px,#482374 103.5px,#46075a)"></div><div style="left:124px;top:0;width:1px;height:114px;background:linear-gradient(#471365,#453581 5.5px,#37598c 11.5px,#20918c 22.5px,#21a685 26.5px,#33b67a 30.5px,#71cf57 38.5px,#90d743 43.5px,#9cd93b 47.5px,#92d742 52.5px,#79d152 55.5px,#5dc962 57.5px,#3dbc74 59.5px,#26ac81 62.5px,#1e9d89 65.5px,#2e6e8e 77.5px,#424186 89.5px,#46337f 94.5px,#482374 103.5px,#46075b)"></div><div style="left:125px;top:0;width:1px;height:114px;background:linear-gradient(#481366,#453681 5.5px,#375a8c 11.5px,#20928c 22.5px,#22a785 26.5px,#35b779 30.5px,#75d054 38.5px,#97d83f 43.5px,#a3da37 46.5px,#9fda3a 50.5px,#91d742 53.5px,#71cf56 56.5px,#40bd72 59.5px,#28ae80 62.5px,#1f9e89 65.5px,#2c738e 76.5px,#424086 90.5px,#46327f 96.5px,#481e70 105.5px,#46075b)"></div><div style="left:126px;top:0;width:1px;height:114px;background:linear-gradient(#481466,#453781 5.5px,#375b8d 11.5px,#20938c 22.5px,#20a387 25.5px,#31b57b 29.5px,#73d055 37.5px,#9ad93d 42.5px,#acdc31 46.5px,#a8db34 50.5px,#9ad93d 53.5px,#78d152 56.5px,#45bf70 59.5px,#2ab07f 62.5px,#1fa088 65.5px,#2a788e 75.5px,#414387 90.5px,#46327f 97.5px,#481c6e 106.5px,#46085c)"></div><div style="left:127px;top:0;width:1px;height:114px;background:linear-gradient(#481467,#453782 5.5px,#365c8d 11.5px,#1f948c 22.5px,#20a586 25.5px,#34b779 29.5px,#7bd250 37.5px,#a6db35 42.5px,#bade28 46.5px,#b7de2a 49.5px,#acdc31 52.5px,#8fd744 55.5px,#70cf57 57.5px,#4ac26d 59.5px,#2db27d 62.5px,#1fa287 65.5px,#287d8e 74.5px,#404788 90.5px,#482374 104.5px,#46095c)"></div><div style="left:128px;top:0;width:1px;height:114px;background:linear-gradient(#481568,#443882 5.5px,#365d8d 11.5px,#1f968b 22.5px,#22a785 25.5px,#38b977 29.5px,#7bd250 36.5px,#b5de2b 42.5px,#cbe11e 46.5px,#c9e020 49.5px,#bcdf27 52.5px,#9dd93b 55.5px,#7bd250 57.5px,#53c568 59.5px,#32b57a 62.5px,#20a586 65.5px,#218f8d 70.5px,#3b518b 88.5px,#443983 96.5px,#481e70 106.5px,#460a5d)"></div><div style="left:129px;top:0;width:1px;height:114px;background:linear-gradient(#481769,#443a83 5.5px,#355f8d 11.5px,#20938c 21.5px,#20a486 24.5px,#36b878 28.5px,#5cc863 32.5px,#b7de2a 40.5px,#d2e21b 43.5px,#e2e418 46.5px,#dfe318 49.5px,#d1e11c 52.5px,#afdd2f 55.5px,#8bd647 57.5px,#5fc961 59.5px,#39b977 62.5px,#23a984 65.5px,#1f968b 69.5px,#365c8d 86.5px,#433d84 96.5px,#482071 106.5px,#460c5f)"></div><div style="left:130px;top:0;width:1px;height:114px;background:linear-gradient(#48186b,#433c84 5.5px,#34618d 11.5px,#1f968b 21.5px,#22a884 24.5px,#3dbc74 28.5px,#68cc5c 32.5px,#a9dc33 37.5px,#d0e11c 40.5px,#e5e419 42.5px,#fbe723 45.5px,#fbe723 49.5px,#ebe51a 52.5px,#d6e21a 54.5px,#b6de2b 56.5px,#6fcf58 59.5px,#43bf71 62.5px,#28ae80 65.5px,#1f9f88 68.5px,#2c738e 80.5px,#424086 96.5px,#482273 106.5px,#470e61)"></div><div style="left:131px;top:0;width:1px;height:114px;background:linear-gradient(#481a6c,#472f7d 10.5px,#39568c 19.5px,#21908c 33.5px,#21a685 38.5px,#33b67a 44.5px,#35b779 48.5px,#23a983 53.5px,#1f968b 57.5px,#2f6c8e 66.5px,#443983 89.5px,#481467)"></div><div style="left:132px;top:0;width:1px;height:114px;background:linear-gradient(#481669,#482978 10.5px,#3c508b 20.5px,#228c8d 37.5px,#1e9d89 44.5px,#1e9c89 49.5px,#24868e 56.5px,#355e8d 66.5px,#46317e 88.5px,#471164)"></div><div style="left:133px;top:0;width:1px;height:114px;background:linear-gradient(#481366,#482777 11.5px,#3d4d8a 22.5px,#25848e 41.5px,#23898d 48.5px,#29798e 55.5px,#3b508b 67.5px,#482878 89.5px,#470f61)"></div><div style="left:134px;top:0;width:1px;height:114px;background:linear-gradient(#471164,#482374 11.5px,#3f4889 23.5px,#2b768e 41.5px,#297a8e 48.5px,#30698e 56.5px,#404588 68.5px,#482172 90.5px,#470d60)"></div><div style="left:135px;top:0;width:1px;height:114px;background:linear-gradient(#470f62,#482273 12.5px,#414487 24.5px,#2f6b8e 42.5px,#2e6d8e 49.5px,#38588c 58.5px,#433c84 69.5px,#481c6e 90.5px,#460b5e)"></div><div style="left:136px;top:0;width:1px;height:114px;background:linear-gradient(#470e61,#481f70 12.5px,#424086 25.5px,#34618d 42.5px,#33628d 50.5px,#453781 69.5px,#48196b 90.5px,#460a5d)"></div><div style="left:137px;top:0;width:1px;height:114px;background:linear-gradient(#470c5f,#481f70 13.5px,#433f85 27.5px,#375a8c 43.5px,#38588c 51.5px,#46307e 70.5px,#481567 91.5px,#46085c)"></div><div style="left:138px;top:0;width:1px;height:114px;background:linear-gradient(#460b5e,#481c6e 13.5px,#443a83 27.5px,#3a538b 43.5px,#3b518b 51.5px,#472b7a 71.5px,#471265 91.5px,#46085b)"></div><div style="left:139px;top:0;width:1px;height:114px;background:linear-gradient(#460a5e,#481c6e 14.5px,#443983 29.5px,#3d4e8a 44.5px,#3e4a89 52.5px,#482878 71.5px,#471063 92.5px,#46075b)"></div><div style="left:140px;top:0;width:1px;height:114px;background:linear-gradient(#460a5d,#481b6d 14.5px,#453681 29.5px,#3f4989 44.5px,#414487 53.5px,#482474 72.5px,#470e61 92.5px,#46065a)"></div><div style="left:141px;top:0;width:1px;height:114px;background:linear-gradient(#46095c,#481b6d 15.5px,#453581 31.5px,#404587 45.5px,#433e85 54.5px,#482071 73.5px,#470c5f 93.5px,#45065a)"></div><div style="left:142px;top:0;width:1px;height:114px;background:linear-gradient(#46085c,#48196c 15.5px,#463480 32.5px,#424186 46.5px,#453782 56.5px,#48196b 77.5px,#460a5d 96.5px,#450659)"></div><div style="left:143px;top:0;width:1px;height:114px;background:linear-gradient(#46085b,#48186a 15.5px,#46327f 33.5px,#433d85 46.5px,#46327f 57.5px,#471264 82.5px,#45065a 106.5px,#450559)"></div><div style="left:144px;top:0;width:1px;height:114px;background:linear-gradient(#46085b,#48196b 16.5px,#46327f 35.5px,#443a83 48.5px,#481b6d 73.5px,#46095d 93.5px,#450559)"></div><div style="left:145px;top:0;width:1px;height:114px;background:linear-gradient(#46075b,#48176a 16.5px,#46317e 36.5px,#453781 48.5px,#481567 77.5px,#46085b 96.5px,#450558)"></div><div style="left:146px;top:0;width:1px;height:114px;background:linear-gradient(#46075a,#481669 16.5px,#472f7d 36.5px,#463480 49.5px,#460a5d 88.5px,#450558)"></div><div style="left:147px;top:0;width:1px;height:114px;background:linear-gradient(#46075a,#481568 16.5px,#472d7c 37.5px,#46317e 49.5px,#46095d 88.5px,#450558)"></div><div style="left:148px;top:0;width:1px;height:114px;background:linear-gradient(#45065a,#481467 16.5px,#472c7b 38.5px,#472f7c 50.5px,#46095c 88.5px,#450558)"></div><div style="left:149px;top:0;width:2px;height:114px;background:linear-gradient(#45065a,#481467 17.5px,#472b7a 40.5px,#472a79 52.5px,#46085b 88.5px,#450458)"></div><div style="left:151px;top:0;width:2px;height:114px;background:linear-gradient(#450659,#471365 17.5px,#482878 42.5px,#482575 54.5px,#46075b 88.5px,#450458)"></div><div style="left:153px;top:0;width:2px;height:114px;background:linear-gradient(#450559,#471164 17.5px,#482576 43.5px,#482071 56.5px,#45065a 89.5px,#450458)"></div><div style="left:155px;top:0;width:2px;height:114px;background:linear-gradient(#450559,#471164 18.5px,#482273 45.5px,#481769 63.5px,#450659 90.5px,#450457)"></div><div style="left:157px;top:0;width:2px;height:114px;background:linear-gradient(#450558,#471062 18.5px,#482071 45.5px,#470f62 71.5px,#450558 93.5px,#450457)"></div><div style="left:159px;top:0;width:2px;height:114px;background:linear-gradient(#450558,#470f62 19.5px,#481d6f 46.5px,#450558 90.5px,#450457)"></div><div style="left:161px;top:0;width:2px;height:114px;background:linear-gradient(#450558,#470f62 20.5px,#481b6d 47.5px,#450558 89.5px,#450457)"></div><div style="left:163px;top:0;width:3px;height:114px;background:linear-gradient(#450458,#470e61 21.5px,#48186b 48.5px,#450558 89.5px,#450457)"></div><div style="left:166px;top:0;width:3px;height:114px;background:linear-gradient(#450458,#470f62 25.5px,#481568 50.5px,#450458 90.5px,#450457)"></div><div style="left:169px;top:0;width:3px;height:114px;background:linear-gradient(#450458,#481366 48.5px,#450458 91.5px,#450457)"></div><div style="left:172px;top:0;width:4px;height:114px;background:linear-gradient(#450457,#471163 49.5px,#450457 92.5px,#450457)"></div><div style="left:176px;top:0;width:4px;height:114px;background:linear-gradient(#450457,#470e61 51.5px,#450457 94.5px,#450457)"></div><div style="left:180px;top:0;width:5px;height:114px;background:linear-gradient(#450457,#460c5f 52.5px,#450457 99.5px,#450457)"></div><div style="left:185px;top:0;width:6px;height:114px;background:linear-gradient(#450457,#46095c 55.5px,#450457)"></div><div style="left:191px;top:0;width:9px;height:114px;background:linear-gradient(#450457,#45065a 60.5px,#450457)"></div><div style="left:200px;top:0;width:18px;height:114px;background:#450558"></div><div style="left:218px;top:0;width:37px;height:114px;background:#450457"></div></div>
<div style="left:378px;top:354px;width:255px;height:114px"><div style="left:0px;top:0;width:13px;height:114px;background:linear-gradient(#450457,#450559 59.5px,#471164 63.5px,#46307e 68.5px,#463480 70.5px,#482677 73.5px,#460c5f 77.5px,#450458 81.5px,#45065a 88.5px,#471063 92.5px,#470d60 111.5px,#460a5d)"></div><div style="left:13px;top:0;width:10px;height:114px;background:linear-gradient(#450457,#450659 59.5px,#471366 63.5px,#46327f 68.5px,#463480 70.5px,#482576 73.5px,#460b5e 77.5px,#450458 82.5px,#46075a 88.5px,#471063 92.5px,#470e61 111.5px,#460a5d)"></div><div style="left:23px;top:0;width:8px;height:114px;background:linear-gradient(#450457,#46075a 59.5px,#481567 63.5px,#472f7d 67.5px,#453681 69.5px,#46327f 71.5px,#460b5f 77.5px,#450458 82.5px,#450558 87.5px,#471164 92.5px,#470e61 111.5px,#460a5d)"></div><div style="left:31px;top:0;width:6px;height:114px;background:linear-gradient(#450457,#46075a 58.5px,#471164 62.5px,#46317e 67.5px,#453781 69.5px,#46337f 71.5px,#471063 76.5px,#450659 80.5px,#450559 87.5px,#471264 92.5px,#471063 110.5px,#460b5e)"></div><div style="left:37px;top:0;width:5px;height:114px;background:linear-gradient(#450457,#46075b 57.5px,#470f62 61.5px,#46337f 67.5px,#453882 69.5px,#463480 71.5px,#471164 76.5px,#45065a 80.5px,#450659 87.5px,#471265 91.5px,#471164 110.5px,#460b5e)"></div><div style="left:42px;top:0;width:4px;height:114px;background:linear-gradient(#450457,#46075b 54.5px,#470d60 60.5px,#482172 64.5px,#453882 68.5px,#443882 70.5px,#482677 73.5px,#470e61 77.5px,#450558 83.5px,#45065a 87.5px,#481366 91.5px,#471265 110.5px,#460c5f)"></div><div style="left:46px;top:0;width:4px;height:114px;background:linear-gradient(#450457,#46075b 52.5px,#470f62 60.5px,#482374 64.5px,#443a83 68.5px,#443a83 70.5px,#482777 73.5px,#470f61 77.5px,#450558 83.5px,#46075a 87.5px,#481467 91.5px,#471365 110.5px,#470c5f)"></div><div style="left:50px;top:0;width:3px;height:114px;background:linear-gradient(#450457,#46075b 50.5px,#471264 60.5px,#482676 64.5px,#433c84 68.5px,#443c84 70.5px,#482978 73.5px,#471062 77.5px,#450558 83.5px,#46075b 87.5px,#481568 91.5px,#481466 110.5px,#470d60)"></div><div style="left:53px;top:0;width:3px;height:114px;background:linear-gradient(#450457,#46085b 49.5px,#481466 60.5px,#482878 64.5px,#433e85 68.5px,#433d85 70.5px,#472a79 73.5px,#471163 77.5px,#450559 83.5px,#46075b 87.5px,#481669 91.5px,#481567 110.5px,#470d60)"></div><div style="left:56px;top:0;width:3px;height:114px;background:linear-gradient(#450457,#46075b 47.5px,#481669 60.5px,#472b7a 64.5px,#433d85 67.5px,#424186 69.5px,#443b83 71.5px,#481669 76.5px,#46085b 81.5px,#450558 86.5px,#481769 91.5px,#481668 110.5px,#470e61)"></div><div style="left:59px;top:0;width:2px;height:114px;background:linear-gradient(#450457,#46085b 46.5px,#48196b 60.5px,#472d7c 64.5px,#424086 67.5px,#414387 69.5px,#433d84 71.5px,#48186a 76.5px,#46085b 81.5px,#450558 86.5px,#48186a 91.5px,#481669 110.5px,#470e61)"></div><div style="left:61px;top:0;width:2px;height:114px;background:linear-gradient(#450457,#46085b 45.5px,#481b6d 60.5px,#47307d 64.5px,#414287 67.5px,#404588 69.5px,#433e85 71.5px,#48196b 76.5px,#46085c 81.5px,#450558 86.5px,#48196b 91.5px,#481769 110.5px,#470f61)"></div><div style="left:63px;top:0;width:2px;height:114px;background:linear-gradient(#450457,#46085c 44.5px,#481d6f 60.5px,#46327f 64.5px,#414487 67.5px,#3f4788 69.5px,#424086 71.5px,#481a6c 76.5px,#46095c 81.5px,#450559 86.5px,#48186a 90.5px,#48186a 110.5px,#470f62)"></div><div style="left:65px;top:0;width:2px;height:114px;background:linear-gradient(#450457,#46085c 43.5px,#482071 60.5px,#453580 64.5px,#404788 67.5px,#3e4989 69.5px,#414286 71.5px,#481b6d 76.5px,#46095c 81.5px,#450559 86.5px,#48196b 90.5px,#48186b 110.5px,#470f62)"></div><div style="left:67px;top:0;width:2px;height:114px;background:linear-gradient(#450457,#46085b 41.5px,#48176a 53.5px,#482374 60.5px,#453882 64.5px,#3e4989 67.5px,#3f4989 70.5px,#46337f 73.5px,#481769 77.5px,#450659 83.5px,#450559 86.5px,#481a6c 90.5px,#48196b 110.5px,#471063)"></div><div style="left:69px;top:0;width:2px;height:114px;background:linear-gradient(#450457,#46085c 40.5px,#48186a 52.5px,#482677 60.5px,#414286 65.5px,#3c4e8a 68.5px,#3e4b8a 70.5px,#453580 73.5px,#48186a 77.5px,#450659 83.5px,#450659 86.5px,#481a6d 90.5px,#481a6c 110.5px,#471063)"></div><div style="left:71px;top:0;width:2px;height:114px;background:linear-gradient(#450457,#46085c 39.5px,#48186a 51.5px,#472e7c 61.5px,#3c4f8b 67.5px,#3c4e8a 70.5px,#453781 73.5px,#48196b 77.5px,#450659 83.5px,#450659 86.5px,#481b6d 90.5px,#481b6d 110.5px,#471163)"></div><div style="left:73px;top:0;width:1px;height:114px;background:linear-gradient(#450457,#46095c 38.5px,#48186a 50.5px,#46317e 61.5px,#3b528b 67.5px,#3c508b 70.5px,#443882 73.5px,#481a6c 77.5px,#450659 83.5px,#45065a 86.5px,#481c6e 90.5px,#481b6d 110.5px,#471164)"></div><div style="left:74px;top:0;width:1px;height:114px;background:linear-gradient(#450457,#46085c 37.5px,#481a6c 50.5px,#46337f 61.5px,#3a538b 67.5px,#3b518b 70.5px,#443983 73.5px,#481b6d 77.5px,#46085b 82.5px,#450457 85.5px,#460c5f 87.5px,#481c6e 90.5px,#481b6d 110.5px,#471164)"></div><div style="left:75px;top:0;width:1px;height:114px;background:linear-gradient(#450457,#46085c 36.5px,#48196b 49.5px,#472c7b 58.5px,#443a83 62.5px,#39558c 67.5px,#3a538b 70.5px,#443b83 73.5px,#481b6d 77.5px,#46085b 82.5px,#450457 85.5px,#470c5f 87.5px,#481d6f 90.5px,#481c6e 110.5px,#471164)"></div><div style="left:76px;top:0;width:1px;height:114px;background:linear-gradient(#450457,#46095c 36.5px,#481a6c 49.5px,#472c7b 57.5px,#433c84 62.5px,#38578c 67.5px,#3a548c 70.5px,#443c84 73.5px,#481c6e 77.5px,#46085b 82.5px,#450457 85.5px,#470c5f 87.5px,#481d6f 90.5px,#481c6e 110.5px,#471264)"></div><div style="left:77px;top:0;width:1px;height:114px;background:linear-gradient(#450457,#46095c 35.5px,#481a6c 48.5px,#472f7d 57.5px,#433e85 62.5px,#38598c 67.5px,#39568c 70.5px,#433d84 73.5px,#481c6e 77.5px,#46085c 82.5px,#450457 85.5px,#470d60 87.5px,#481e6f 90.5px,#481d6e 110.5px,#471265)"></div><div style="left:78px;top:0;width:1px;height:114px;background:linear-gradient(#450457,#46085c 34.5px,#48196b 47.5px,#47307d 56.5px,#433c84 61.5px,#375a8d 67.5px,#38578c 70.5px,#433e85 73.5px,#481d6f 77.5px,#46085c 82.5px,#450457 85.5px,#470d60 87.5px,#481e70 90.5px,#481d6f 110.5px,#471265)"></div><div style="left:79px;top:0;width:1px;height:114px;background:linear-gradient(#450457,#46095c 34.5px,#481b6d 47.5px,#46327f 56.5px,#433e85 61.5px,#365c8d 67.5px,#38588c 70.5px,#423f85 73.5px,#481e6f 77.5px,#46085c 82.5px,#450457 85.5px,#470d60 87.5px,#481e70 90.5px,#481d6f 110.5px,#471265)"></div><div style="left:80px;top:0;width:1px;height:114px;background:linear-gradient(#450457,#46095c 33.5px,#481a6c 46.5px,#453580 56.5px,#424186 61.5px,#355d8d 67.5px,#375a8c 70.5px,#424086 73.5px,#481e70 77.5px,#46085c 82.5px,#450457 85.5px,#470d60 87.5px,#481f70 90.5px,#481e6f 110.5px,#471265)"></div><div style="left:81px;top:0;width:1px;height:114px;background:linear-gradient(#450457,#46095c 32.5px,#481a6c 45.5px,#453782 56.5px,#3f4889 62.5px,#355f8d 67.5px,#375b8d 70.5px,#453781 74.5px,#48196b 78.5px,#45065a 83.5px,#450457 85.5px,#470e61 87.5px,#481f71 90.5px,#481e70 110.5px,#471365)"></div><div style="left:82px;top:0;width:1px;height:114px;background:linear-gradient(#450457,#46095c 31.5px,#48196b 44.5px,#443a83 56.5px,#3e4a89 62.5px,#34608d 67.5px,#365c8d 70.5px,#453882 74.5px,#48196b 78.5px,#45065a 83.5px,#450458 85.5px,#470e61 87.5px,#482071 90.5px,#481e70 110.5px,#471365)"></div><div style="left:83px;top:0;width:1px;height:114px;background:linear-gradient(#450457,#46095d 31.5px,#481b6d 44.5px,#453681 53.5px,#3d4d8a 62.5px,#33628d 67.5px,#365d8d 70.5px,#443982 74.5px,#481a6c 78.5px,#45065a 83.5px,#450458 85.5px,#481668 88.5px,#482071 90.5px,#481e70 110.5px,#481366)"></div><div style="left:84px;top:0;width:1px;height:114px;background:linear-gradient(#450457,#46095d 30.5px,#481a6c 43.5px,#453580 52.5px,#424086 56.5px,#3c508b 62.5px,#33638d 67.5px,#355e8d 70.5px,#443983 74.5px,#481a6c 78.5px,#45065a 83.5px,#450458 85.5px,#481668 88.5px,#482072 90.5px,#481f70 110.5px,#481366)"></div><div style="left:85px;top:0;width:1px;height:114px;background:linear-gradient(#450457,#46095c 29.5px,#481a6c 42.5px,#463480 51.5px,#414287 55.5px,#3b528b 62.5px,#32648e 67.5px,#355e8d 70.5px,#443a83 74.5px,#481b6d 78.5px,#45065a 83.5px,#450458 85.5px,#481669 88.5px,#482172 90.5px,#481f71 110.5px,#481366)"></div><div style="left:86px;top:0;width:1px;height:114px;background:linear-gradient(#450457,#46095c 28.5px,#481a6c 41.5px,#453782 51.5px,#404588 55.5px,#39558c 62.5px,#32668e 67.5px,#345f8d 70.5px,#443b84 74.5px,#481b6d 78.5px,#45065a 83.5px,#450458 85.5px,#482172 90.5px,#481f71 110.5px,#481466)"></div><div style="left:87px;top:0;width:1px;height:114px;background:linear-gradient(#450457,#460a5d 28.5px,#481b6d 41.5px,#443a83 51.5px,#3f4989 55.5px,#365b8d 63.5px,#31678e 67.5px,#34608d 70.5px,#433c84 74.5px,#481b6d 78.5px,#45065a 83.5px,#450458 85.5px,#482173 90.5px,#481f71 110.5px,#481466)"></div><div style="left:88px;top:0;width:1px;height:114px;background:linear-gradient(#450457,#460a5d 27.5px,#481b6d 40.5px,#443983 50.5px,#3d4c8a 55.5px,#355e8d 63.5px,#31688e 67.5px,#34618d 70.5px,#433d84 74.5px,#481c6e 78.5px,#45065a 83.5px,#450458 85.5px,#482273 90.5px,#482071 110.5px,#481466)"></div><div style="left:89px;top:0;width:1px;height:114px;background:linear-gradient(#450457,#46095d 26.5px,#481b6d 39.5px,#443982 49.5px,#3c508b 55.5px,#33638d 64.5px,#30688e 68.5px,#375b8d 71.5px,#463480 75.5px,#481669 79.5px,#45065a 83.5px,#450458 85.5px,#482273 90.5px,#482071 110.5px,#481466)"></div><div style="left:90px;top:0;width:1px;height:114px;background:linear-gradient(#450457,#46095d 25.5px,#481d6e 39.5px,#433c84 49.5px,#3a548b 55.5px,#2f6a8e 67.5px,#33628d 70.5px,#433e85 74.5px,#481d6e 78.5px,#45065a 83.5px,#450458 85.5px,#482273 90.5px,#482072 110.5px,#481467)"></div><div style="left:91px;top:0;width:1px;height:114px;background:linear-gradient(#450457,#460a5d 25.5px,#481c6e 38.5px,#443b84 48.5px,#38588c 55.5px,#2f6c8e 67.5px,#33638d 70.5px,#433f85 74.5px,#481d6f 78.5px,#45065a 83.5px,#450458 85.5px,#482374 90.5px,#482072 110.5px,#481467)"></div><div style="left:92px;top:0;width:1px;height:114px;background:linear-gradient(#450457,#460a5d 24.5px,#481c6e 37.5px,#443b83 47.5px,#365c8d 55.5px,#2e6d8e 67.5px,#32648e 70.5px,#423f86 74.5px,#481d6f 78.5px,#46095c 82.5px,#450458 85.5px,#482374 90.5px,#482374 109.5px,#481567)"></div><div style="left:93px;top:0;width:1px;height:114px;background:linear-gradient(#450457,#460a5d 23.5px,#481e70 37.5px,#433e85 47.5px,#34608d 55.5px,#2e6e8e 67.5px,#32648e 70.5px,#424086 74.5px,#481e6f 78.5px,#46095c 82.5px,#450458 85.5px,#482475 90.5px,#482475 109.5px,#481567)"></div><div style="left:94px;top:0;width:1px;height:114px;background:linear-gradient(#450457,#460b5e 23.5px,#481e70 36.5px,#433e85 46.5px,#32648e 55.5px,#2d6f8e 67.5px,#32658e 70.5px,#424186 74.5px,#481e70 78.5px,#46095d 82.5px,#450558 85.5px,#482173 89.5px,#482677 91.5px,#482676 109.5px,#481668)"></div><div style="left:95px;top:0;width:1px;height:114px;background:linear-gradient(#450457,#460a5e 22.5px,#481e6f 35.5px,#433d84 45.5px,#31688e 55.5px,#2d718e 66.5px,#31668e 70.5px,#414286 74.5px,#481f70 78.5px,#46095d 82.5px,#450558 85.5px,#482474 89.5px,#482979 91.5px,#482978 109.5px,#48176a)"></div><div style="left:96px;top:0;width:1px;height:114px;background:linear-gradient(#450457,#460a5d 21.5px,#482071 35.5px,#424186 45.5px,#2f6a8e 54.5px,#2c738e 65.5px,#2f6b8e 69.5px,#39578c 72.5px,#472f7d 76.5px,#471265 80.5px,#450558 84.5px,#450558 85.5px,#482777 89.5px,#472c7b 91.5px,#472c7b 109.5px,#48196b)"></div><div style="left:97px;top:0;width:1px;height:114px;background:linear-gradient(#450457,#460b5e 21.5px,#482071 34.5px,#424086 44.5px,#2e6f8e 54.5px,#2b758e 63.5px,#2d708e 68.5px,#34608d 71.5px,#443983 75.5px,#48196b 79.5px,#45065a 83.5px,#450558 85.5px,#481668 87.5px,#482a79 89.5px,#47307d 91.5px,#472f7d 109.5px,#481b6d)"></div><div style="left:98px;top:0;width:1px;height:114px;background:linear-gradient(#450457,#460b5e 20.5px,#481f71 33.5px,#424086 43.5px,#2c738e 54.5px,#2a788e 62.5px,#2d718e 68.5px,#34618d 71.5px,#443a83 75.5px,#48196b 79.5px,#45065a 83.5px,#450558 85.5px,#481769 87.5px,#472b7a 89.5px,#46327f 91.5px,#46317e 109.5px,#481c6e)"></div><div style="left:99px;top:0;width:1px;height:114px;background:linear-gradient(#450457,#460b5e 19.5px,#482273 33.5px,#414487 43.5px,#2a788e 54.5px,#287c8e 61.5px,#2b758e 67.5px,#33628d 71.5px,#443a83 75.5px,#48196b 79.5px,#45065a 83.5px,#450558 85.5px,#481769 87.5px,#472b7a 89.5px,#46327f 91.5px,#46317e 109.5px,#481c6e)"></div><div style="left:100px;top:0;width:1px;height:114px;background:linear-gradient(#450457,#460b5f 19.5px,#482173 32.5px,#414487 42.5px,#287d8e 54.5px,#26818e 60.5px,#2a768e 67.5px,#33628d 71.5px,#443b84 75.5px,#48196b 79.5px,#45065a 83.5px,#450558 85.5px,#481668 87.5px,#482a79 89.5px,#47307d 91.5px,#472f7d 109.5px,#481b6d)"></div><div style="left:101px;top:0;width:1px;height:114px;background:linear-gradient(#450457,#460b5e 18.5px,#482172 31.5px,#414387 41.5px,#287d8e 53.5px,#24868e 57.5px,#287d8e 65.5px,#306a8e 70.5px,#404688 74.5px,#482172 78.5px,#460a5d 82.5px,#450558 85.5px,#482777 89.5px,#472d7b 91.5px,#472c7b 109.5px,#48196b)"></div><div style="left:102px;top:0;width:1px;height:114px;background:linear-gradient(#450457,#470c5f 18.5px,#482474 31.5px,#3f4788 41.5px,#26828e 53.5px,#238a8d 56.5px,#24868e 62.5px,#2b758e 68.5px,#33638d 71.5px,#433c84 75.5px,#481a6c 79.5px,#45065a 83.5px,#450558 85.5px,#482475 89.5px,#482979 91.5px,#482979 109.5px,#48186a)"></div><div style="left:103px;top:0;width:1px;height:114px;background:linear-gradient(#450458,#460c5f 17.5px,#482474 30.5px,#3f4788 40.5px,#26828e 52.5px,#218e8d 55.5px,#228d8d 60.5px,#297a8e 67.5px,#32648e 71.5px,#433c84 75.5px,#481a6c 79.5px,#45065a 83.5px,#450558 85.5px,#482273 89.5px,#482777 91.5px,#482677 109.5px,#481669)"></div><div style="left:104px;top:0;width:1px;height:114px;background:linear-gradient(#450458,#460c5f 16.5px,#482374 29.5px,#3f4788 39.5px,#26828e 51.5px,#20928c 54.5px,#20938c 59.5px,#27808e 66.5px,#32658e 71.5px,#433d84 75.5px,#481a6c 79.5px,#45065a 83.5px,#450558 85.5px,#482575 90.5px,#482575 109.5px,#481568)"></div><div style="left:105px;top:0;width:1px;height:114px;background:linear-gradient(#450458,#470c5f 16.5px,#482676 29.5px,#3e4b8a 39.5px,#24888e 51.5px,#1f978b 54.5px,#1f988b 59.5px,#26818e 66.5px,#32658e 71.5px,#433d85 75.5px,#481a6c 79.5px,#45065a 83.5px,#450458 85.5px,#482475 90.5px,#482475 109.5px,#481567)"></div><div style="left:106px;top:0;width:1px;height:114px;background:linear-gradient(#450458,#470c5f 15.5px,#482374 27.5px,#404688 37.5px,#25838e 49.5px,#1e9d89 54.5px,#1e9d89 59.5px,#25838e 66.5px,#32668e 71.5px,#433d85 75.5px,#481a6c 79.5px,#45065a 83.5px,#450458 85.5px,#482474 90.5px,#482475 109.5px,#481567)"></div><div style="left:107px;top:0;width:1px;height:114px;background:linear-gradient(#450458,#470d60 15.5px,#482676 27.5px,#3e4b89 37.5px,#23898e 49.5px,#20a387 54.5px,#20a386 58.5px,#218f8d 64.5px,#31668e 71.5px,#433e85 75.5px,#481a6c 79.5px,#45065a 83.5px,#450458 85.5px,#482475 90.5px,#482475 109.5px,#481567)"></div><div style="left:108px;top:0;width:1px;height:114px;background:linear-gradient(#450558,#470d60 14.5px,#482576 26.5px,#3e4a89 36.5px,#23898e 48.5px,#1f9f88 52.5px,#24aa83 55.5px,#21a685 59.5px,#20918c 64.5px,#31678e 71.5px,#433e85 75.5px,#481a6c 79.5px,#45065a 83.5px,#450558 85.5px,#482475 90.5px,#482575 109.5px,#481568)"></div><div style="left:109px;top:0;width:1px;height:114px;background:linear-gradient(#450558,#470e61 14.5px,#482576 25.5px,#3e4a89 35.5px,#23898d 47.5px,#1fa088 51.5px,#28ae80 54.5px,#28ae80 58.5px,#1f998a 63.5px,#31678e 71.5px,#433e85 75.5px,#481a6c 79.5px,#45065a 83.5px,#450558 85.5px,#482576 90.5px,#482576 109.5px,#481668)"></div><div style="left:110px;top:0;width:1px;height:114px;background:linear-gradient(#450558,#470f62 14.5px,#482878 25.5px,#3c4e8a 35.5px,#23898d 46.5px,#1fa088 50.5px,#2ab07f 53.5px,#32b67a 55.5px,#2eb37d 58.5px,#1fa287 62.5px,#238a8d 66.5px,#31678e 71.5px,#433e85 75.5px,#481a6c 79.5px,#45065a 83.5px,#450558 85.5px,#482273 89.5px,#482777 91.5px,#482777 109.5px,#481669)"></div><div style="left:111px;top:0;width:1px;height:114px;background:linear-gradient(#450558,#470e61 13.5px,#482777 24.5px,#3c4e8a 34.5px,#23898d 45.5px,#1fa187 49.5px,#2cb17e 52.5px,#3aba76 54.5px,#3aba76 57.5px,#25ab82 61.5px,#1f998a 64.5px,#31688e 71.5px,#433e85 75.5px,#481a6c 79.5px,#45065a 83.5px,#450558 85.5px,#482374 89.5px,#482878 91.5px,#482878 109.5px,#481769)"></div><div style="left:112px;top:0;width:1px;height:114px;background:linear-gradient(#450559,#471062 13.5px,#472a79 24.5px,#3a538b 34.5px,#218f8d 45.5px,#1fa287 48.5px,#2eb27d 51.5px,#46c06f 54.5px,#47c06f 56.5px,#38b977 59.5px,#23a984 62.5px,#20948c 65.5px,#30688e 71.5px,#433e85 75.5px,#481a6c 79.5px,#45065a 83.5px,#450558 85.5px,#482575 89.5px,#472a7a 91.5px,#482a79 109.5px,#48186a)"></div><div style="left:113px;top:0;width:1px;height:114px;background:linear-gradient(#450559,#471163 13.5px,#482a79 23.5px,#3b528b 33.5px,#218f8d 44.5px,#1fa287 47.5px,#2fb47c 50.5px,#53c568 54.5px,#54c568 56.5px,#40bd73 59.5px,#25ac82 62.5px,#1f9d89 64.5px,#2d718e 70.5px,#3e4989 74.5px,#482173 78.5px,#46095d 82.5px,#450558 85.5px,#482677 89.5px,#472c7b 91.5px,#472c7b 109.5px,#48196b)"></div><div style="left:114px;top:0;width:1px;height:114px;background:linear-gradient(#450559,#471063 12.5px,#482979 22.5px,#3b528b 32.5px,#218f8d 43.5px,#1fa287 46.5px,#30b47b 49.5px,#62ca60 54.5px,#61ca60 56.5px,#53c568 58.5px,#29af80 62.5px,#1fa088 64.5px,#29798e 69.5px,#3a558c 73.5px,#463480 76.5px,#481366 80.5px,#45065a 83.5px,#450558 85.5px,#482878 89.5px,#472e7c 91.5px,#472e7c 109.5px,#481a6c)"></div><div style="left:115px;top:0;width:1px;height:114px;background:linear-gradient(#450659,#471264 12.5px,#472c7b 22.5px,#39568c 32.5px,#218e8d 42.5px,#1fa287 45.5px,#29af80 47.5px,#52c569 51.5px,#71cf56 54.5px,#6fcf58 56.5px,#5ec962 58.5px,#2cb17e 62.5px,#1fa187 64.5px,#26818e 68.5px,#345f8d 72.5px,#433e85 75.5px,#481a6c 79.5px,#45065a 83.5px,#450558 85.5px,#481668 87.5px,#482979 89.5px,#472f7d 91.5px,#472f7d 109.5px,#481b6d)"></div><div style="left:116px;top:0;width:1px;height:114px;background:linear-gradient(#450659,#471365 12.5px,#472f7d 22.5px,#375b8d 32.5px,#20948c 42.5px,#23a884 45.5px,#3cbb75 48.5px,#78d152 53.5px,#81d34c 54.5px,#7ed34f 56.5px,#69cd5b 58.5px,#2fb47c 62.5px,#20a386 64.5px,#238a8d 67.5px,#345f8d 72.5px,#433e85 75.5px,#48196c 79.5px,#45065a 83.5px,#450558 85.5px,#481668 87.5px,#482a79 89.5px,#47307d 91.5px,#472f7d 109.5px,#481b6d)"></div><div style="left:117px;top:0;width:1px;height:114px;background:linear-gradient(#45065a,#481467 12.5px,#472e7c 21.5px,#39558c 30.5px,#228d8d 40.5px,#1fa188 43.5px,#28ae80 45.5px,#49c16e 48.5px,#89d547 53.5px,#92d742 54.5px,#92d742 55.5px,#82d44c 57.5px,#41be72 61.5px,#27ad81 63.5px,#1e9c89 65.5px,#30698e 71.5px,#433e85 75.5px,#48196b 79.5px,#45065a 83.5px,#450558 85.5px,#481668 87.5px,#482979 89.5px,#47307d 91.5px,#472f7d 109.5px,#481b6d)"></div><div style="left:118px;top:0;width:1px;height:114px;background:linear-gradient(#46075a,#481668 12.5px,#46327e 21.5px,#375a8c 30.5px,#20928c 40.5px,#22a785 43.5px,#30b47b 45.5px,#66cc5d 49.5px,#9bd93c 53.5px,#a3db37 54.5px,#a2da37 55.5px,#9bd93c 56.5px,#7ed34e 58.5px,#35b878 62.5px,#29af80 63.5px,#21a685 64.5px,#20948c 66.5px,#355f8d 72.5px,#433d85 75.5px,#48196b 79.5px,#45065a 83.5px,#450558 85.5px,#482878 89.5px,#472e7c 91.5px,#472e7c 109.5px,#481a6c)"></div><div style="left:119px;top:0;width:1px;height:114px;background:linear-gradient(#46075a,#481568 11.5px,#46317e 20.5px,#375a8c 29.5px,#20918c 39.5px,#21a685 42.5px,#2fb37c 44.5px,#56c666 47.5px,#a1da38 52.5px,#b4dd2c 54.5px,#b2dd2d 55.5px,#a9dc33 56.5px,#88d548 58.5px,#38b977 62.5px,#2ab07f 63.5px,#21a785 64.5px,#20948c 66.5px,#355f8d 72.5px,#433d84 75.5px,#48196b 79.5px,#45065a 83.5px,#450558 85.5px,#482777 89.5px,#472d7b 91.5px,#472c7b 109.5px,#48196b)"></div><div style="left:120px;top:0;width:1px;height:114px;background:linear-gradient(#46075b,#481769 11.5px,#463480 20.5px,#355e8d 29.5px,#1f978b 39.5px,#20a486 41.5px,#2db27d 43.5px,#54c568 46.5px,#a6db35 51.5px,#bddf26 53.5px,#c4e022 54.5px,#c1df23 55.5px,#b7de2a 56.5px,#91d743 58.5px,#4dc36b 61.5px,#2bb17e 63.5px,#22a784 64.5px,#20948c 66.5px,#355e8d 72.5px,#433d84 75.5px,#48186b 79.5px,#45065a 83.5px,#450558 85.5px,#482575 89.5px,#472a79 91.5px,#482a79 109.5px,#48186a)"></div><div style="left:121px;top:0;width:1px;height:114px;background:linear-gradient(#46085b,#48196b 11.5px,#453882 20.5px,#33638d 29.5px,#1f958b 38.5px,#20a387 40.5px,#2bb17e 42.5px,#51c469 45.5px,#a7db34 50.5px,#c4e022 52.5px,#d4e21b 54.5px,#d0e11c 55.5px,#c3e023 56.5px,#98d93e 58.5px,#50c46a 61.5px,#2cb17e 63.5px,#22a784 64.5px,#20948c 66.5px,#355e8d 72.5px,#433c84 75.5px,#48186a 79.5px,#45065a 83.5px,#450558 85.5px,#482374 89.5px,#482878 91.5px,#482777 109.5px,#481769)"></div><div style="left:122px;top:0;width:1px;height:114px;background:linear-gradient(#46085c,#481b6d 11.5px,#443b84 20.5px,#31678e 29.5px,#20948c 37.5px,#22a884 40.5px,#32b67a 42.5px,#5dc963 45.5px,#b6de2a 50.5px,#d3e21b 52.5px,#e2e418 54.5px,#dce319 55.5px,#cde11d 56.5px,#9eda3a 58.5px,#51c569 61.5px,#2cb17e 63.5px,#22a784 64.5px,#20948c 66.5px,#365d8d 72.5px,#443b84 75.5px,#48186a 79.5px,#45065a 83.5px,#450458 85.5px,#482575 90.5px,#482575 109.5px,#481568)"></div><div style="left:123px;top:0;width:1px;height:114px;background:linear-gradient(#46095c,#481d6e 11.5px,#423f85 20.5px,#2d718e 30.5px,#1f998a 37.5px,#21a685 39.5px,#2fb47c 41.5px,#57c765 44.5px,#b2dd2d 49.5px,#d4e21b 51.5px,#eae51a 53.5px,#eee51b 54.5px,#e7e419 55.5px,#d5e21a 56.5px,#bedf26 57.5px,#6bcd5a 60.5px,#3dbb74 62.5px,#2cb17e 63.5px,#22a784 64.5px,#20938c 66.5px,#365c8d 72.5px,#443b83 75.5px,#48186a 79.5px,#450659 83.5px,#450458 85.5px,#482374 90.5px,#482172 110.5px,#481467)"></div><div style="left:124px;top:0;width:1px;height:114px;background:linear-gradient(#460a5d,#481c6e 10.5px,#433e85 19.5px,#2d718e 29.5px,#1f9e89 37.5px,#25ab82 39.5px,#37b878 41.5px,#62ca5f 44.5px,#bedf26 49.5px,#cfe11c 50.5px,#dfe318 51.5px,#f5e61f 53.5px,#f8e621 54.5px,#eee51b 55.5px,#dae319 56.5px,#c1df24 57.5px,#6bcd5a 60.5px,#3cbb75 62.5px,#2bb17e 63.5px,#21a785 64.5px,#20928c 66.5px,#365b8d 72.5px,#443a83 75.5px,#48176a 79.5px,#450659 83.5px,#450458 85.5px,#482172 90.5px,#481f71 110.5px,#481366)"></div><div style="left:125px;top:0;width:2px;height:114px;background:linear-gradient(#460b5e,#481e70 10.5px,#414287 19.5px,#2b768e 29.5px,#1e9d89 36.5px,#24aa83 38.5px,#34b779 40.5px,#5cc963 43.5px,#b5de2b 48.5px,#d7e21a 50.5px,#e6e419 51.5px,#fce723 53.5px,#fde725 54.5px,#f1e51d 55.5px,#dce319 56.5px,#c1df24 57.5px,#69cd5b 60.5px,#3aba76 62.5px,#2ab07f 63.5px,#21a585 64.5px,#20918c 66.5px,#375a8c 72.5px,#443983 75.5px,#481769 79.5px,#450659 83.5px,#450458 85.5px,#482071 90.5px,#481e70 110.5px,#471365)"></div><div style="left:127px;top:0;width:1px;height:114px;background:linear-gradient(#460a5d,#481d6f 10.5px,#424086 19.5px,#2c728e 29.5px,#1f998a 36.5px,#21a685 38.5px,#2eb37c 40.5px,#53c568 43.5px,#a9dc33 48.5px,#cae11f 50.5px,#e3e418 52.5px,#ebe51a 53.5px,#ede51b 54.5px,#e4e419 55.5px,#d1e11c 56.5px,#9dd93b 58.5px,#4cc26c 61.5px,#37b977 62.5px,#28ae80 63.5px,#20a486 64.5px,#21908c 66.5px,#37598c 72.5px,#443882 75.5px,#481769 79.5px,#450659 83.5px,#450458 85.5px,#482072 90.5px,#481e70 110.5px,#481366)"></div><div style="left:128px;top:0;width:1px;height:114px;background:linear-gradient(#46095d,#481b6d 10.5px,#433d84 19.5px,#30698e 28.5px,#1e9b8a 37.5px,#22a784 39.5px,#30b47b 41.5px,#56c666 44.5px,#a7db34 49.5px,#cde11d 52.5px,#d7e21a 54.5px,#d0e11c 55.5px,#c0df24 56.5px,#76d153 59.5px,#46c06f 61.5px,#34b679 62.5px,#26ac81 63.5px,#1fa287 64.5px,#25858e 67.5px,#38598c 72.5px,#453882 75.5px,#481769 79.5px,#450659 83.5px,#450458 85.5px,#482273 90.5px,#482071 110.5px,#481466)"></div><div style="left:129px;top:0;width:1px;height:114px;background:linear-gradient(#46095c,#481c6e 11.5px,#433e85 20.5px,#2e6f8e 30.5px,#1e9b8a 38.5px,#22a884 40.5px,#3bbb75 43.5px,#8fd744 49.5px,#b2dd2d 52.5px,#bddf26 54.5px,#b7de2a 55.5px,#a9dc33 56.5px,#69cd5b 59.5px,#3fbc73 61.5px,#2eb37c 62.5px,#23a983 63.5px,#1fa088 64.5px,#297b8e 68.5px,#3d4d8a 73.5px,#482575 77.5px,#460c5f 81.5px,#450458 85.5px,#482475 90.5px,#482475 109.5px,#481567)"></div><div style="left:130px;top:0;width:1px;height:114px;background:linear-gradient(#46085c,#481b6d 11.5px,#443b83 20.5px,#32658e 29.5px,#1f958b 38.5px,#22a784 41.5px,#39b977 44.5px,#82d44c 50.5px,#9cd93b 53.5px,#a0da39 54.5px,#9bd93c 55.5px,#81d34d 57.5px,#36b878 61.5px,#29af80 62.5px,#21a585 63.5px,#20938c 65.5px,#39568c 72.5px,#472d7b 76.5px,#471063 80.5px,#450458 84.5px,#450558 85.5px,#482273 89.5px,#482777 91.5px,#482777 109.5px,#481669)"></div><div style="left:131px;top:0;width:1px;height:114px;background:linear-gradient(#46085b,#48196b 11.5px,#453782 20.5px,#34608d 29.5px,#20948c 39.5px,#21a685 42.5px,#34b779 45.5px,#71cf56 51.5px,#83d44b 54.5px,#77d153 56.5px,#3bba75 60.5px,#24aa83 62.5px,#1f988b 64.5px,#31678e 70.5px,#424086 74.5px,#481c6e 78.5px,#46085b 82.5px,#450558 85.5px,#482374 89.5px,#482878 91.5px,#482878 109.5px,#481769)"></div><div style="left:132px;top:0;width:1px;height:114px;background:linear-gradient(#46085b,#48176a 11.5px,#463480 20.5px,#365b8d 29.5px,#20928c 40.5px,#20a386 43.5px,#2eb37c 46.5px,#5fc961 52.5px,#68cc5c 54.5px,#5ec962 56.5px,#2fb47c 60.5px,#20a486 62.5px,#228b8d 65.5px,#3a538b 72.5px,#472b7a 76.5px,#471063 80.5px,#450458 84.5px,#450558 85.5px,#482374 89.5px,#482878 91.5px,#482878 109.5px,#481769)"></div><div style="left:133px;top:0;width:1px;height:114px;background:linear-gradient(#46075b,#48186a 12.5px,#443982 22.5px,#33648d 32.5px,#1f958b 42.5px,#21a586 45.5px,#34b779 49.5px,#4fc46a 54.5px,#48c16e 56.5px,#26ac81 60.5px,#1f9e89 62.5px,#2d708e 68.5px,#404788 73.5px,#482273 77.5px,#460b5e 81.5px,#450558 85.5px,#482273 89.5px,#482777 91.5px,#482677 109.5px,#481668)"></div><div style="left:134px;top:0;width:1px;height:114px;background:linear-gradient(#46075a,#481669 12.5px,#453580 22.5px,#355e8d 32.5px,#1f978b 44.5px,#23a983 48.5px,#3bba76 54.5px,#30b47b 57.5px,#20a586 60.5px,#21908d 63.5px,#38578c 71.5px,#46327e 75.5px,#481467 79.5px,#450659 83.5px,#450458 85.5px,#482374 90.5px,#482374 109.5px,#481567)"></div><div style="left:135px;top:0;width:1px;height:114px;background:linear-gradient(#46075a,#481567 12.5px,#453580 23.5px,#34618d 34.5px,#1f978b 46.5px,#23a983 51.5px,#2bb07e 54.5px,#22a785 58.5px,#1f978b 61.5px,#33628d 69.5px,#414287 73.5px,#481a6c 78.5px,#46085b 82.5px,#450458 85.5px,#481f71 90.5px,#481d6f 110.5px,#471265)"></div><div style="left:136px;top:0;width:1px;height:114px;background:linear-gradient(#45065a,#481366 12.5px,#46317e 23.5px,#375a8d 34.5px,#1f958b 48.5px,#21a685 54.5px,#1f9e89 58.5px,#287d8e 64.5px,#3f4889 72.5px,#481f71 77.5px,#46075b 82.5px,#450458 85.5px,#481b6d 90.5px,#481a6c 110.5px,#471063)"></div><div style="left:137px;top:0;width:1px;height:114px;background:linear-gradient(#450659,#481466 13.5px,#463480 25.5px,#34608d 37.5px,#1f958b 51.5px,#1e9c89 55.5px,#228c8d 60.5px,#3a558c 70.5px,#453580 74.5px,#471365 79.5px,#450559 83.5px,#46075a 86.5px,#48176a 90.5px,#481668 110.5px,#470e61)"></div><div style="left:138px;top:0;width:1px;height:114px;background:linear-gradient(#450659,#471265 13.5px,#47307d 25.5px,#375a8c 37.5px,#218f8d 52.5px,#20928c 55.5px,#25858e 60.5px,#3e4a89 71.5px,#482474 76.5px,#460a5d 81.5px,#450457 85.5px,#481467 90.5px,#471365 110.5px,#470c5f)"></div><div style="left:139px;top:0;width:1px;height:114px;background:linear-gradient(#450559,#471163 13.5px,#472f7d 26.5px,#375b8d 39.5px,#24888e 53.5px,#24868e 57.5px,#2f6c8e 64.5px,#423f86 72.5px,#481c6e 77.5px,#46075a 82.5px,#450659 86.5px,#471264 90.5px,#471163 110.5px,#460b5e)"></div><div style="left:140px;top:0;width:1px;height:114px;background:linear-gradient(#450559,#471164 14.5px,#46317e 28.5px,#375b8d 41.5px,#26818e 54.5px,#2b768e 60.5px,#3f4989 70.5px,#482777 75.5px,#470d60 80.5px,#450457 85.5px,#471063 91.5px,#470d60 111.5px,#460a5d)"></div><div style="left:141px;top:0;width:1px;height:114px;background:linear-gradient(#450559,#471062 14.5px,#472f7d 29.5px,#375b8d 43.5px,#2a798e 54.5px,#2e6e8e 60.5px,#404588 70.5px,#482576 75.5px,#470c5f 80.5px,#450457 85.5px,#470f61 91.5px,#470c5f 111.5px,#46095c)"></div><div style="left:142px;top:0;width:1px;height:114px;background:linear-gradient(#450558,#471062 15.5px,#46337f 32.5px,#365d8d 46.5px,#2d718e 54.5px,#31688e 60.5px,#424186 70.5px,#481e6f 76.5px,#46095c 81.5px,#450559 86.5px,#470e61 91.5px,#460b5e 111.5px,#46085c)"></div><div style="left:143px;top:0;width:1px;height:114px;background:linear-gradient(#450558,#470e61 15.5px,#472e7c 32.5px,#39568c 46.5px,#30698e 54.5px,#355e8d 61.5px,#453882 71.5px,#470f61 79.5px,#450458 84.5px,#470d60 92.5px,#460b5e 111.5px,#46085b)"></div><div style="left:144px;top:0;width:1px;height:114px;background:linear-gradient(#450558,#470e61 16.5px,#472f7d 34.5px,#38578c 49.5px,#33628d 55.5px,#39558c 62.5px,#453580 71.5px,#470e61 79.5px,#450458 84.5px,#460c5f 93.5px,#460a5d 111.5px,#46085b)"></div><div style="left:145px;top:0;width:1px;height:114px;background:linear-gradient(#450558,#470e61 17.5px,#472f7d 36.5px,#39558c 51.5px,#375b8d 55.5px,#3d4c8a 63.5px,#472d7b 72.5px,#460a5d 80.5px,#450457 85.5px,#460b5e 92.5px,#46085c 112.5px,#46075b)"></div><div style="left:146px;top:0;width:1px;height:114px;background:linear-gradient(#450458,#470d60 17.5px,#472b7a 36.5px,#3b508b 52.5px,#3a538b 56.5px,#424186 65.5px,#472a79 72.5px,#460a5d 80.5px,#450558 86.5px,#460b5e 93.5px,#46085b 112.5px,#46075a)"></div><div style="left:147px;top:0;width:1px;height:114px;background:linear-gradient(#450458,#470d60 18.5px,#472b7a 38.5px,#3d4e8a 54.5px,#414487 62.5px,#482777 72.5px,#46095d 80.5px,#450558 86.5px,#460a5d 93.5px,#46075b 112.5px,#46075a)"></div><div style="left:148px;top:0;width:1px;height:114px;background:linear-gradient(#450458,#470d60 19.5px,#482979 39.5px,#3f4788 55.5px,#443a83 64.5px,#482575 72.5px,#46095c 80.5px,#450558 86.5px,#46095d 94.5px,#45065a)"></div><div style="left:149px;top:0;width:1px;height:114px;background:linear-gradient(#450458,#470c5f 20.5px,#482777 40.5px,#414286 55.5px,#463480 65.5px,#481f70 73.5px,#46075a 81.5px,#450659 87.5px,#46095c 101.5px,#45065a)"></div><div style="left:150px;top:0;width:1px;height:114px;background:linear-gradient(#450458,#470c5f 21.5px,#482777 42.5px,#433c84 55.5px,#472e7c 66.5px,#48196b 74.5px,#45065a 81.5px,#450559 87.5px,#46085c 108.5px,#450659)"></div><div style="left:151px;top:0;width:1px;height:114px;background:linear-gradient(#450457,#460c5f 22.5px,#482777 44.5px,#453782 55.5px,#482878 67.5px,#471164 76.5px,#450458 83.5px,#46085c 106.5px,#450659)"></div><div style="left:152px;top:0;width:1px;height:114px;background:linear-gradient(#450457,#460c5f 23.5px,#482475 45.5px,#46337f 55.5px,#482474 68.5px,#450659 81.5px,#45065a 88.5px,#450659)"></div><div style="left:153px;top:0;width:1px;height:114px;background:linear-gradient(#450457,#460c5f 25.5px,#482576 48.5px,#472e7c 56.5px,#481c6e 71.5px,#450659 81.5px,#450659 88.5px,#450559)"></div><div style="left:154px;top:0;width:1px;height:114px;background:linear-gradient(#450457,#460b5f 26.5px,#482575 50.5px,#482a79 56.5px,#481a6c 71.5px,#450659 81.5px,#46075a 89.5px,#450559)"></div><div style="left:155px;top:0;width:1px;height:114px;background:linear-gradient(#450457,#460c5f 28.5px,#482676 56.5px,#481668 72.5px,#450558 82.5px,#450559)"></div><div style="left:156px;top:0;width:1px;height:114px;background:linear-gradient(#450457,#460b5e 29.5px,#482374 56.5px,#481467 72.5px,#450558 82.5px,#450559)"></div><div style="left:157px;top:0;width:1px;height:114px;background:linear-gradient(#450457,#460b5e 31.5px,#482071 56.5px,#471164 73.5px,#450458 83.5px,#450558)"></div><div style="left:158px;top:0;width:1px;height:114px;background:linear-gradient(#450457,#460b5e 33.5px,#481d6f 56.5px,#471062 73.5px,#450458 83.5px,#450558)"></div><div style="left:159px;top:0;width:1px;height:114px;background:linear-gradient(#450457,#460b5e 34.5px,#481a6c 57.5px,#470d60 74.5px,#450457 85.5px,#450558)"></div><div style="left:160px;top:0;width:1px;height:114px;background:linear-gradient(#450457,#460b5e 36.5px,#48186a 57.5px,#470c5f 74.5px,#450457 85.5px,#450558)"></div><div style="left:161px;top:0;width:2px;height:114px;background:linear-gradient(#450457,#460b5e 39.5px,#481567 57.5px,#460a5d 75.5px,#450458 87.5px,#450558)"></div><div style="left:163px;top:0;width:2px;height:114px;background:linear-gradient(#450457,#460a5e 42.5px,#471164 58.5px,#450457 86.5px,#450558)"></div><div style="left:165px;top:0;width:2px;height:114px;background:linear-gradient(#450457,#460a5d 45.5px,#470e61 60.5px,#450458 87.5px,#450458)"></div><div style="left:167px;top:0;width:2px;height:114px;background:linear-gradient(#450457,#460a5d 49.5px,#46095d 69.5px,#450558 89.5px,#450458)"></div><div style="left:169px;top:0;width:3px;height:114px;background:linear-gradient(#450457,#46085c 67.5px,#450558 96.5px,#450458)"></div><div style="left:172px;top:0;width:5px;height:114px;background:linear-gradient(#450457,#450559 74.5px,#450457)"></div><div style="left:177px;top:0;width:15px;height:114px;background:#450457"></div><div style="left:192px;top:0;width:63px;height:114px;background:#450457"></div></div>
<svg width="685" height="491" viewBox="0 0 685 491" style="position:absolute;left:0;top:0;will-change:transform">
<defs><linearGradient id="vir" x1="0" y1="1" x2="0" y2="0">
<stop offset="0" stop-color="#440154"/>
<stop offset="0.06" stop-color="#48186a"/>
<stop offset="0.12" stop-color="#472d7b"/>
<stop offset="0.19" stop-color="#424086"/>
<stop offset="0.25" stop-color="#3b528b"/>
<stop offset="0.31" stop-color="#33638d"/>
<stop offset="0.38" stop-color="#2c728e"/>
<stop offset="0.44" stop-color="#26828e"/>
<stop offset="0.5" stop-color="#21918c"/>
<stop offset="0.56" stop-color="#1fa088"/>
<stop offset="0.62" stop-color="#28ae80"/>
<stop offset="0.69" stop-color="#3fbc73"/>
<stop offset="0.75" stop-color="#5ec962"/>
<stop offset="0.81" stop-color="#84d44b"/>
<stop offset="0.88" stop-color="#addc30"/>
<stop offset="0.94" stop-color="#d8e219"/>
<stop offset="1" stop-color="#fde725"/>
</linearGradient></defs>
<g font-family="Liberation Serif" font-size="25" fill="#000" stroke="#fff" stroke-width="0.35" stroke-opacity="0.9">
<line x1="190.6" y1="143.6" x2="190.6" y2="30.05" stroke="#fff" stroke-opacity="0.92" stroke-width="1.05" stroke-dasharray="2.6 1.4"/>
<rect x="60.5" y="29.75" width="254.2" height="114.15" fill="none" stroke="#1a1a1a" stroke-width="0.9"/>
<rect x="322.4" y="29.75" width="8.6" height="114.15" fill="url(#vir)" stroke="#1a1a1a" stroke-width="0.9"/>
<line x1="331" y1="39.1" x2="334" y2="39.1" stroke="#000" stroke-width="0.9"/>
<text transform="matrix(0.95 0 0 0.978 339.3 48.35)">2.0</text>
<line x1="331" y1="91.6" x2="334" y2="91.6" stroke="#000" stroke-width="0.9"/>
<text transform="matrix(0.95 0 0 0.978 339.3 100.85)">1.0</text>
<line x1="322.9" y1="143.15" x2="330.5" y2="143.15" stroke="#b49cc0" stroke-opacity="0.8" stroke-width="0.9"/>
<text transform="matrix(1.1605 0 0 1.1296 306.71 26.79)" font-size="25">×</text>
<text transform="matrix(0.8924 0 0 0.9781 324.34 23.61)" font-size="25">10</text>
<rect x="347.7" y="9.45" width="11.2" height="0.95" stroke="none"/>
<text transform="matrix(0.7613 0 0 0.6786 358.63 14.95)" font-size="25" stroke-width="0.2">1</text>
<line x1="508.5" y1="143.6" x2="508.5" y2="30.05" stroke="#fff" stroke-opacity="0.92" stroke-width="1.05" stroke-dasharray="2.6 1.4"/>
<rect x="378.4" y="29.75" width="254.2" height="114.15" fill="none" stroke="#1a1a1a" stroke-width="0.9"/>
<rect x="640.3" y="29.75" width="8.6" height="114.15" fill="url(#vir)" stroke="#1a1a1a" stroke-width="0.9"/>
<line x1="648.9" y1="34.5" x2="651.9" y2="34.5" stroke="#000" stroke-width="0.9"/>
<text transform="matrix(0.95 0 0 0.978 657.2 43.75)">1.5</text>
<line x1="648.9" y1="70.5" x2="651.9" y2="70.5" stroke="#000" stroke-width="0.9"/>
<text transform="matrix(0.95 0 0 0.978 657.2 79.75)">1.0</text>
<line x1="648.9" y1="107.3" x2="651.9" y2="107.3" stroke="#000" stroke-width="0.9"/>
<text transform="matrix(0.95 0 0 0.978 657.2 116.55)">0.5</text>
<line x1="648.9" y1="143.8" x2="651.9" y2="143.8" stroke="#000" stroke-width="0.9"/>
<text transform="matrix(0.95 0 0 0.978 657.2 153.05)">0.0</text>
<text transform="matrix(1.1605 0 0 1.1296 624.61 26.79)" font-size="25">×</text>
<text transform="matrix(0.8924 0 0 0.9781 642.24 23.61)" font-size="25">10</text>
<rect x="665.6" y="9.45" width="11.2" height="0.95" stroke="none"/>
<text transform="matrix(0.6488 0 0 0.6668 677.42 14.79)" font-size="25" stroke-width="0.2">3</text>
<line x1="57.5" y1="30.4" x2="60.5" y2="30.4" stroke="#000" stroke-width="0.9"/>
<text transform="matrix(0.95 0 0 0.978 56.6 39.65)" text-anchor="end">0.0</text>
<line x1="57.5" y1="58.71" x2="60.5" y2="58.71" stroke="#000" stroke-width="0.9"/>
<text transform="matrix(0.95 0 0 0.978 56.6 67.96)" text-anchor="end">0.5</text>
<line x1="57.5" y1="87.03" x2="60.5" y2="87.03" stroke="#000" stroke-width="0.9"/>
<text transform="matrix(0.95 0 0 0.978 56.6 96.28)" text-anchor="end">1.0</text>
<line x1="57.5" y1="115.34" x2="60.5" y2="115.34" stroke="#000" stroke-width="0.9"/>
<text transform="matrix(0.95 0 0 0.978 56.6 124.59)" text-anchor="end">1.5</text>
<line x1="57.5" y1="143.65" x2="60.5" y2="143.65" stroke="#000" stroke-width="0.9"/>
<text transform="matrix(0.95 0 0 0.978 56.6 152.9)" text-anchor="end">2.0</text>
<g transform="translate(0 86.83) rotate(-90)">
<text transform="matrix(0.7600 0 0 0.9481 -34.17 18.77)" font-size="25" font-style="italic">ϵ</text>
<text transform="matrix(0.7230 0 0 0.6404 -23.92 21.64)" font-size="25" font-style="italic" stroke="none">ss</text>
<text transform="matrix(0.7787 0 0 1.0411 0.34 18.26)" font-size="25">(</text>
<text transform="matrix(0.8527 0 0 1.1324 7.77 19.13)" font-size="25">%</text>
<text transform="matrix(0.7787 0 0 1.0411 26.47 18.26)" font-size="25">)</text>
</g>
<line x1="190.6" y1="305.8" x2="190.6" y2="192.25" stroke="#fff" stroke-opacity="0.92" stroke-width="1.05" stroke-dasharray="2.6 1.4"/>
<rect x="60.5" y="191.95" width="254.2" height="114.15" fill="none" stroke="#1a1a1a" stroke-width="0.9"/>
<rect x="322.4" y="191.95" width="8.6" height="114.15" fill="url(#vir)" stroke="#1a1a1a" stroke-width="0.9"/>
<line x1="331" y1="207.5" x2="334" y2="207.5" stroke="#000" stroke-width="0.9"/>
<text transform="matrix(0.95 0 0 0.978 339.3 216.75)">4.0</text>
<line x1="331" y1="256.4" x2="334" y2="256.4" stroke="#000" stroke-width="0.9"/>
<text transform="matrix(0.95 0 0 0.978 339.3 265.65)">2.0</text>
<line x1="331" y1="305.3" x2="334" y2="305.3" stroke="#000" stroke-width="0.9"/>
<text transform="matrix(0.95 0 0 0.978 339.3 314.55)">0.0</text>
<text transform="matrix(1.1605 0 0 1.1296 306.71 188.99)" font-size="25">×</text>
<text transform="matrix(0.8924 0 0 0.9781 324.34 185.81)" font-size="25">10</text>
<rect x="347.7" y="171.65" width="11.2" height="0.95" stroke="none"/>
<text transform="matrix(0.6685 0 0 0.6766 359.57 177.15)" font-size="25" stroke-width="0.2">2</text>
<line x1="508.5" y1="305.8" x2="508.5" y2="192.25" stroke="#fff" stroke-opacity="0.92" stroke-width="1.05" stroke-dasharray="2.6 1.4"/>
<rect x="378.4" y="191.95" width="254.2" height="114.15" fill="none" stroke="#1a1a1a" stroke-width="0.9"/>
<rect x="640.3" y="191.95" width="8.6" height="114.15" fill="url(#vir)" stroke="#1a1a1a" stroke-width="0.9"/>
<line x1="648.9" y1="218.4" x2="651.9" y2="218.4" stroke="#000" stroke-width="0.9"/>
<text transform="matrix(0.95 0 0 0.978 657.2 227.65)">1.0</text>
<line x1="648.9" y1="262.6" x2="651.9" y2="262.6" stroke="#000" stroke-width="0.9"/>
<text transform="matrix(0.95 0 0 0.978 657.2 271.85)">0.5</text>
<text transform="matrix(1.1605 0 0 1.1296 624.61 188.99)" font-size="25">×</text>
<text transform="matrix(0.8924 0 0 0.9781 642.24 185.81)" font-size="25">10</text>
<rect x="665.6" y="171.65" width="11.2" height="0.95" stroke="none"/>
<text transform="matrix(0.7613 0 0 0.6786 676.53 177.15)" font-size="25" stroke-width="0.2">1</text>
<line x1="57.5" y1="192.6" x2="60.5" y2="192.6" stroke="#000" stroke-width="0.9"/>
<text transform="matrix(0.95 0 0 0.978 56.6 201.85)" text-anchor="end">0.0</text>
<line x1="57.5" y1="220.91" x2="60.5" y2="220.91" stroke="#000" stroke-width="0.9"/>
<text transform="matrix(0.95 0 0 0.978 56.6 230.16)" text-anchor="end">0.5</text>
<line x1="57.5" y1="249.22" x2="60.5" y2="249.22" stroke="#000" stroke-width="0.9"/>
<text transform="matrix(0.95 0 0 0.978 56.6 258.48)" text-anchor="end">1.0</text>
<line x1="57.5" y1="277.54" x2="60.5" y2="277.54" stroke="#000" stroke-width="0.9"/>
<text transform="matrix(0.95 0 0 0.978 56.6 286.79)" text-anchor="end">1.5</text>
<line x1="57.5" y1="305.85" x2="60.5" y2="305.85" stroke="#000" stroke-width="0.9"/>
<text transform="matrix(0.95 0 0 0.978 56.6 315.1)" text-anchor="end">2.0</text>
<g transform="translate(0 249.02) rotate(-90)">
<text transform="matrix(0.7600 0 0 0.9481 -34.17 18.77)" font-size="25" font-style="italic">ϵ</text>
<text transform="matrix(0.7230 0 0 0.6404 -23.92 21.64)" font-size="25" font-style="italic" stroke="none">ss</text>
<text transform="matrix(0.7787 0 0 1.0411 0.34 18.26)" font-size="25">(</text>
<text transform="matrix(0.8527 0 0 1.1324 7.77 19.13)" font-size="25">%</text>
<text transform="matrix(0.7787 0 0 1.0411 26.47 18.26)" font-size="25">)</text>
</g>
<line x1="190.6" y1="468.05" x2="190.6" y2="354.5" stroke="#fff" stroke-opacity="0.92" stroke-width="1.05" stroke-dasharray="2.6 1.4"/>
<rect x="60.5" y="354.2" width="254.2" height="114.15" fill="none" stroke="#1a1a1a" stroke-width="0.9"/>
<rect x="322.4" y="354.2" width="8.6" height="114.15" fill="url(#vir)" stroke="#1a1a1a" stroke-width="0.9"/>
<line x1="331" y1="360" x2="334" y2="360" stroke="#000" stroke-width="0.9"/>
<text transform="matrix(0.95 0 0 0.978 339.3 369.25)">2.0</text>
<line x1="331" y1="413.9" x2="334" y2="413.9" stroke="#000" stroke-width="0.9"/>
<text transform="matrix(0.95 0 0 0.978 339.3 423.15)">1.0</text>
<line x1="331" y1="467.8" x2="334" y2="467.8" stroke="#000" stroke-width="0.9"/>
<text transform="matrix(0.95 0 0 0.978 339.3 477.05)">0.0</text>
<text transform="matrix(1.1605 0 0 1.1296 306.71 351.24)" font-size="25">×</text>
<text transform="matrix(0.8924 0 0 0.9781 324.34 348.06)" font-size="25">10</text>
<rect x="347.7" y="333.9" width="11.2" height="0.95" stroke="none"/>
<text transform="matrix(0.6685 0 0 0.6766 359.57 339.40)" font-size="25" stroke-width="0.2">2</text>
<line x1="508.5" y1="468.05" x2="508.5" y2="354.5" stroke="#fff" stroke-opacity="0.92" stroke-width="1.05" stroke-dasharray="2.6 1.4"/>
<rect x="378.4" y="354.2" width="254.2" height="114.15" fill="none" stroke="#1a1a1a" stroke-width="0.9"/>
<rect x="640.3" y="354.2" width="8.6" height="114.15" fill="url(#vir)" stroke="#1a1a1a" stroke-width="0.9"/>
<line x1="648.9" y1="391.5" x2="651.9" y2="391.5" stroke="#000" stroke-width="0.9"/>
<text transform="matrix(0.95 0 0 0.978 657.2 400.75)">1.0</text>
<line x1="648.9" y1="430.9" x2="651.9" y2="430.9" stroke="#000" stroke-width="0.9"/>
<text transform="matrix(0.95 0 0 0.978 657.2 440.15)">0.5</text>
<line x1="648.9" y1="468.2" x2="651.9" y2="468.2" stroke="#000" stroke-width="0.9"/>
<text transform="matrix(0.95 0 0 0.978 657.2 477.45)">0.0</text>
<text transform="matrix(1.1605 0 0 1.1296 624.61 351.24)" font-size="25">×</text>
<text transform="matrix(0.8924 0 0 0.9781 642.24 348.06)" font-size="25">10</text>
<rect x="665.6" y="333.9" width="11.2" height="0.95" stroke="none"/>
<text transform="matrix(0.6488 0 0 0.6668 677.42 339.24)" font-size="25" stroke-width="0.2">3</text>
<line x1="57.5" y1="354.85" x2="60.5" y2="354.85" stroke="#000" stroke-width="0.9"/>
<text transform="matrix(0.95 0 0 0.978 56.6 364.1)" text-anchor="end">0.0</text>
<line x1="57.5" y1="383.16" x2="60.5" y2="383.16" stroke="#000" stroke-width="0.9"/>
<text transform="matrix(0.95 0 0 0.978 56.6 392.41)" text-anchor="end">0.5</text>
<line x1="57.5" y1="411.47" x2="60.5" y2="411.47" stroke="#000" stroke-width="0.9"/>
<text transform="matrix(0.95 0 0 0.978 56.6 420.72)" text-anchor="end">1.0</text>
<line x1="57.5" y1="439.79" x2="60.5" y2="439.79" stroke="#000" stroke-width="0.9"/>
<text transform="matrix(0.95 0 0 0.978 56.6 449.04)" text-anchor="end">1.5</text>
<line x1="57.5" y1="468.1" x2="60.5" y2="468.1" stroke="#000" stroke-width="0.9"/>
<text transform="matrix(0.95 0 0 0.978 56.6 477.35)" text-anchor="end">2.0</text>
<g transform="translate(0 411.27) rotate(-90)">
<text transform="matrix(0.7600 0 0 0.9481 -34.17 18.77)" font-size="25" font-style="italic">ϵ</text>
<text transform="matrix(0.7230 0 0 0.6404 -23.92 21.64)" font-size="25" font-style="italic" stroke="none">ss</text>
<text transform="matrix(0.7787 0 0 1.0411 0.34 18.26)" font-size="25">(</text>
<text transform="matrix(0.8527 0 0 1.1324 7.77 19.13)" font-size="25">%</text>
<text transform="matrix(0.7787 0 0 1.0411 26.47 18.26)" font-size="25">)</text>
</g>
<line x1="124.4" y1="468.35" x2="124.4" y2="471.35" stroke="#000" stroke-width="0.9"/>
<text transform="matrix(0.9269 0 0 1.0895 117.90 491.13)" font-size="25">S</text>
<line x1="245.3" y1="468.35" x2="245.3" y2="471.35" stroke="#000" stroke-width="0.9"/>
<text transform="matrix(0.8293 0 0 1.0385 237.75 491.20)" font-size="25">N</text>
<line x1="442.3" y1="468.35" x2="442.3" y2="471.35" stroke="#000" stroke-width="0.9"/>
<text transform="matrix(0.9269 0 0 1.0895 435.80 491.13)" font-size="25">S</text>
<line x1="563.2" y1="468.35" x2="563.2" y2="471.35" stroke="#000" stroke-width="0.9"/>
<text transform="matrix(0.8293 0 0 1.0385 555.65 491.20)" font-size="25">N</text>
<line x1="173" y1="4.2" x2="173" y2="27.7" stroke="#000" stroke-width="1.05"/>
<line x1="202.6" y1="4.2" x2="202.6" y2="27.7" stroke="#000" stroke-width="1.05"/>
<g transform="matrix(1.0000 0 0 1.0000 176.60 4.80)" fill="none" stroke="#000" stroke-linecap="round"><path d="M14.0,3.6 C14.1,1.2 12.2,0.2 9.8,0.3 C6.9,0.4 4.6,2.4 4.7,5.0 C4.8,7.6 8.8,8.5 10.9,10.3 C12.6,11.9 12.3,15.0 9.3,16.4 C6.8,17.4 2.6,16.7 1.2,14.6 C0.5,13.3 1.3,11.6 2.9,11.3" stroke-width="1.45"/><path d="M5.2,6.2 C6.4,7.8 9.4,8.6 11.2,10.6" stroke-width="2.4"/><circle cx="13.9" cy="2.9" r="1.1" fill="#000" stroke="none"/></g>
<text transform="matrix(0.6512 0 0 0.7054 190.68 26.03)" font-size="25" stroke="none">0</text>
<line x1="486.3" y1="4.4" x2="486.3" y2="27.6" stroke="#000" stroke-width="1.05"/>
<line x1="525.1" y1="4.4" x2="525.1" y2="27.6" stroke="#000" stroke-width="1.05"/>
<g transform="matrix(1.0000 0 0 1.0178 489.80 5.40)" fill="none" stroke="#000" stroke-linecap="round"><path d="M14.0,3.6 C14.1,1.2 12.2,0.2 9.8,0.3 C6.9,0.4 4.6,2.4 4.7,5.0 C4.8,7.6 8.8,8.5 10.9,10.3 C12.6,11.9 12.3,15.0 9.3,16.4 C6.8,17.4 2.6,16.7 1.2,14.6 C0.5,13.3 1.3,11.6 2.9,11.3" stroke-width="1.45"/><path d="M5.2,6.2 C6.4,7.8 9.4,8.6 11.2,10.6" stroke-width="2.4"/><circle cx="13.9" cy="2.9" r="1.1" fill="#000" stroke="none"/></g>
<circle cx="501" cy="1.1" r="1.15"/>
<path d="M508.4 30V14.3 M504.8 18.7Q507.2 16.5 508.4 14.3 Q509.6 16.5 512.4 18.7" fill="none" stroke="#000" stroke-width="0.85"/>
<path d="M517.1 14.3V27.7 M513.3 24.1Q515.9 25.5 517.1 27.7 Q518.3 25.5 520.9 24.1" fill="none" stroke="#000" stroke-width="0.85"/>
<line x1="167.3" y1="163.6" x2="167.3" y2="187.3" stroke="#000" stroke-width="1.05"/>
<line x1="208.3" y1="163.6" x2="208.3" y2="187.3" stroke="#000" stroke-width="1.05"/>
<g transform="matrix(0.9886 0 0 1.0000 170.60 164.30)" fill="none" stroke="#000" stroke-linecap="round"><path d="M0.4,6.3 C0.2,5.2 1.6,3.2 3.4,2.3 C6,0.9 9.5,0.4 12.3,0.5 C15.3,0.6 17.1,1.9 17.1,4.2 C17.1,7.3 13.8,10.6 9.6,11.3 C8.6,11.5 7.6,11.5 7,11.3" stroke-width="1.3"/><path d="M11.0,1.3 C10.9,6 8.4,12.5 2.6,17.9" stroke-width="2.2"/></g>
<text transform="matrix(0.6923 0 0 0.5489 190.39 173.07)" font-size="25" font-style="italic" stroke="none">s</text>
<path d="M191.3 192.2V177.2 M187.8 181.6Q190.1 179.4 191.3 177.2 Q192.5 179.4 195.2 181.6" fill="none" stroke="#000" stroke-width="0.85"/>
<path d="M200.3 177.2V191.3 M196.5 187.4Q199.1 189.1 200.3 191.3 Q201.5 189.1 204.4 187.4" fill="none" stroke="#000" stroke-width="0.85"/>
<line x1="488.4" y1="166.1" x2="488.4" y2="189.6" stroke="#000" stroke-width="1.05"/>
<line x1="522.6" y1="166.1" x2="522.6" y2="189.6" stroke="#000" stroke-width="1.05"/>
<g transform="matrix(1.0114 0 0 0.9730 492.30 167.30)" fill="none" stroke="#000" stroke-linecap="round"><path d="M0.4,6.3 C0.2,5.2 1.6,3.2 3.4,2.3 C6,0.9 9.5,0.4 12.3,0.5 C15.3,0.6 17.1,1.9 17.1,4.2 C17.1,7.3 13.8,10.6 9.6,11.3 C8.6,11.5 7.6,11.5 7,11.3" stroke-width="1.3"/><path d="M11.0,1.3 C10.9,6 8.4,12.5 2.6,17.9" stroke-width="2.2"/></g>
<circle cx="503.2" cy="162.9" r="1.15"/>
<text transform="matrix(0.7269 0 0 0.5489 510.98 175.17)" font-size="25" font-style="italic" stroke="none">s</text>
<text transform="matrix(0.6229 0 0 0.6105 509.01 190.05)" font-size="25" stroke="none">0</text>
<line x1="170.3" y1="328.1" x2="170.3" y2="351.6" stroke="#000" stroke-width="1.05"/>
<line x1="205.1" y1="328.1" x2="205.1" y2="351.6" stroke="#000" stroke-width="1.05"/>
<g transform="matrix(1.0114 0 0 0.9676 174.30 329.60)" fill="none" stroke="#000" stroke-linecap="round"><path d="M0.4,6.3 C0.2,5.2 1.6,3.2 3.4,2.3 C6,0.9 9.5,0.4 12.3,0.5 C15.3,0.6 17.1,1.9 17.1,4.2 C17.1,7.3 13.8,10.6 9.6,11.3 C8.6,11.5 7.6,11.5 7,11.3" stroke-width="1.3"/><path d="M11.0,1.3 C10.9,6 8.4,12.5 2.6,17.9" stroke-width="2.2"/></g>
<text transform="matrix(0.5640 0 0 0.6083 193.08 336.65)" font-size="25" font-style="italic" stroke="none">b</text>
<text transform="matrix(0.6948 0 0 0.5482 191.08 352.07)" font-size="25" font-style="italic" stroke="none">σ</text>
<line x1="488.7" y1="328.1" x2="488.7" y2="351.6" stroke="#000" stroke-width="1.05"/>
<line x1="522.6" y1="328.1" x2="522.6" y2="351.6" stroke="#000" stroke-width="1.05"/>
<g transform="matrix(1.0114 0 0 0.9676 492.30 329.60)" fill="none" stroke="#000" stroke-linecap="round"><path d="M0.4,6.3 C0.2,5.2 1.6,3.2 3.4,2.3 C6,0.9 9.5,0.4 12.3,0.5 C15.3,0.6 17.1,1.9 17.1,4.2 C17.1,7.3 13.8,10.6 9.6,11.3 C8.6,11.5 7.6,11.5 7,11.3" stroke-width="1.3"/><path d="M11.0,1.3 C10.9,6 8.4,12.5 2.6,17.9" stroke-width="2.2"/></g>
<circle cx="503.7" cy="324.9" r="1.15"/>
<text transform="matrix(0.5548 0 0 0.6083 511.19 336.65)" font-size="25" font-style="italic" stroke="none">b</text>
<text transform="matrix(0.5663 0 0 0.6105 509.66 352.05)" font-size="25" stroke="none">0</text>
</g></svg>
</div></body></html>
